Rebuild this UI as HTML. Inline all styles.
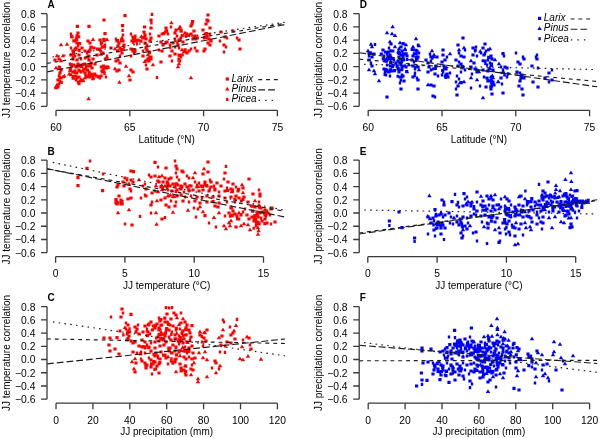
<!DOCTYPE html><html><head><meta charset="utf-8"><style>html,body{margin:0;padding:0;background:#fff;}svg{display:block;filter:blur(0.4px);}text{font-family:"Liberation Sans",sans-serif;}</style></head><body>
<svg width="600" height="438" viewBox="0 0 600 438">
<rect width="600" height="438" fill="#fff"/>
<path fill="#ff0000" d="M123.4 14.0h3.2v3.2h-3.2zM150.8 12.8h2.4v3.1h-2.4zM102.4 18.4h3.2v3.2h-3.2zM149.4 18.4h3.2v3.2h-3.2zM150.2 21.4h2.4v3.1h-2.4zM75.8 24.8h3.2v3.2h-3.2zM87.4 24.8h3.2v3.2h-3.2zM121.0 24.0h3.2v3.2h-3.2zM143.0 25.4h3.2v3.2h-3.2zM149.4 26.4h3.2v3.2h-3.2zM121.4 28.8h2.4v3.1h-2.4zM164.4 26.4h3.2v3.2h-3.2zM69.8 32.5h2.4v3.1h-2.4zM70.4 35.4h3.2v3.2h-3.2zM76.4 31.4h3.2v3.2h-3.2zM75.4 34.4h3.2v3.2h-3.2zM74.8 37.5h2.4v3.1h-2.4zM103.4 32.0h3.2v3.2h-3.2zM121.8 33.5h2.4v3.1h-2.4zM129.8 32.5h2.4v3.1h-2.4zM131.4 35.4h3.2v3.2h-3.2zM133.8 36.5h2.4v3.1h-2.4zM130.4 39.4h3.2v3.2h-3.2zM134.4 39.4h3.2v3.2h-3.2zM142.4 30.4h3.2v3.2h-3.2zM143.4 33.4h3.2v3.2h-3.2zM143.0 35.6l2.2 3.7h-4.4zM144.4 37.4h3.2v3.2h-3.2zM148.8 32.5h2.4v3.1h-2.4zM149.4 36.4h3.2v3.2h-3.2zM148.4 39.4h3.2v3.2h-3.2zM157.4 34.4h3.2v3.2h-3.2zM160.8 32.5h2.4v3.1h-2.4zM163.8 30.4h2.4v3.1h-2.4zM73.4 39.4h3.2v3.2h-3.2zM75.4 41.4h3.2v3.2h-3.2zM76.8 44.5h2.4v3.1h-2.4zM74.4 46.4h3.2v3.2h-3.2zM86.4 39.4h3.2v3.2h-3.2zM93.0 37.2l2.2 3.7h-4.4zM88.4 41.4h3.2v3.2h-3.2zM98.4 38.4h3.2v3.2h-3.2zM100.8 41.5h2.4v3.1h-2.4zM104.0 38.6l2.2 3.7h-4.4zM107.0 37.2l2.2 3.7h-4.4zM103.8 43.5h2.4v3.1h-2.4zM101.4 45.4h3.2v3.2h-3.2zM99.8 42.5h2.4v3.1h-2.4zM114.8 37.5h2.4v3.1h-2.4zM115.4 39.4h3.2v3.2h-3.2zM117.4 41.4h3.2v3.2h-3.2zM116.4 44.4h3.2v3.2h-3.2zM118.4 46.4h3.2v3.2h-3.2zM122.0 35.6l2.2 3.7h-4.4zM121.4 39.4h3.2v3.2h-3.2zM122.4 43.4h3.2v3.2h-3.2zM136.8 38.5h2.4v3.1h-2.4zM135.8 42.5h2.4v3.1h-2.4zM143.4 41.4h3.2v3.2h-3.2zM145.8 43.5h2.4v3.1h-2.4zM144.4 46.4h3.2v3.2h-3.2zM159.4 40.4h3.2v3.2h-3.2zM161.4 43.4h3.2v3.2h-3.2zM164.8 41.5h2.4v3.1h-2.4zM61.0 42.6l2.2 3.7h-4.4zM67.0 42.0l2.2 3.7h-4.4zM69.8 46.5h2.4v3.1h-2.4zM71.4 49.4h3.2v3.2h-3.2zM77.4 48.4h3.2v3.2h-3.2zM80.4 46.4h3.2v3.2h-3.2zM83.4 49.4h3.2v3.2h-3.2zM85.8 51.5h2.4v3.1h-2.4zM88.4 48.4h3.2v3.2h-3.2zM89.4 45.4h3.2v3.2h-3.2zM92.4 46.4h3.2v3.2h-3.2zM97.4 47.4h3.2v3.2h-3.2zM101.0 48.6l2.2 3.7h-4.4zM101.4 51.4h3.2v3.2h-3.2zM109.4 46.4h3.2v3.2h-3.2zM115.0 46.6l2.2 3.7h-4.4zM119.8 48.5h2.4v3.1h-2.4zM120.4 51.4h3.2v3.2h-3.2zM118.8 54.5h2.4v3.1h-2.4zM129.4 47.4h3.2v3.2h-3.2zM131.4 49.4h3.2v3.2h-3.2zM133.4 48.4h3.2v3.2h-3.2zM132.8 51.5h2.4v3.1h-2.4zM141.8 49.5h2.4v3.1h-2.4zM145.4 48.4h3.2v3.2h-3.2zM148.8 50.5h2.4v3.1h-2.4zM148.0 52.6l2.2 3.7h-4.4zM157.8 48.5h2.4v3.1h-2.4zM160.4 49.4h3.2v3.2h-3.2zM57.0 53.6l2.2 3.7h-4.4zM63.0 53.6l2.2 3.7h-4.4zM69.4 53.4h3.2v3.2h-3.2zM73.8 54.5h2.4v3.1h-2.4zM77.4 53.4h3.2v3.2h-3.2zM87.4 54.4h3.2v3.2h-3.2zM95.4 53.4h3.2v3.2h-3.2zM105.8 54.5h2.4v3.1h-2.4zM129.8 54.5h2.4v3.1h-2.4zM141.4 54.4h3.2v3.2h-3.2zM149.4 55.4h3.2v3.2h-3.2zM56.0 65.6l2.2 3.7h-4.4zM57.8 65.5h2.4v3.1h-2.4zM59.4 68.4h3.2v3.2h-3.2zM58.4 71.4h3.2v3.2h-3.2zM57.8 74.5h2.4v3.1h-2.4zM59.4 76.4h3.2v3.2h-3.2zM56.4 78.4h3.2v3.2h-3.2zM60.0 79.6l2.2 3.7h-4.4zM57.0 82.6l2.2 3.7h-4.4zM56.0 85.6l2.2 3.7h-4.4zM56.4 85.4h3.2v3.2h-3.2zM63.0 74.6l2.2 3.7h-4.4zM57.8 82.5h2.4v3.1h-2.4zM53.4 58.4h3.2v3.2h-3.2zM57.4 57.4h3.2v3.2h-3.2zM61.0 58.6l2.2 3.7h-4.4zM71.4 57.4h3.2v3.2h-3.2zM75.4 58.4h3.2v3.2h-3.2zM79.8 57.5h2.4v3.1h-2.4zM83.8 56.5h2.4v3.1h-2.4zM87.4 58.4h3.2v3.2h-3.2zM91.4 57.4h3.2v3.2h-3.2zM93.4 62.4h3.2v3.2h-3.2zM68.8 62.5h2.4v3.1h-2.4zM70.4 64.4h3.2v3.2h-3.2zM72.4 63.4h3.2v3.2h-3.2zM74.4 65.4h3.2v3.2h-3.2zM76.4 62.4h3.2v3.2h-3.2zM78.8 64.5h2.4v3.1h-2.4zM80.4 63.4h3.2v3.2h-3.2zM82.8 62.5h2.4v3.1h-2.4zM84.8 65.5h2.4v3.1h-2.4zM86.4 64.4h3.2v3.2h-3.2zM88.4 63.4h3.2v3.2h-3.2zM90.4 66.4h3.2v3.2h-3.2zM69.8 68.5h2.4v3.1h-2.4zM71.4 70.4h3.2v3.2h-3.2zM73.4 69.4h3.2v3.2h-3.2zM75.8 71.5h2.4v3.1h-2.4zM77.4 68.4h3.2v3.2h-3.2zM79.8 70.5h2.4v3.1h-2.4zM81.4 69.4h3.2v3.2h-3.2zM83.4 71.4h3.2v3.2h-3.2zM85.4 68.4h3.2v3.2h-3.2zM87.4 70.4h3.2v3.2h-3.2zM89.4 72.4h3.2v3.2h-3.2zM73.4 74.4h3.2v3.2h-3.2zM75.4 76.4h3.2v3.2h-3.2zM77.4 75.4h3.2v3.2h-3.2zM81.0 77.6l2.2 3.7h-4.4zM83.0 78.6l2.2 3.7h-4.4zM74.8 78.5h2.4v3.1h-2.4zM76.8 80.5h2.4v3.1h-2.4zM73.0 74.6l2.2 3.7h-4.4zM71.0 72.6l2.2 3.7h-4.4zM85.4 74.4h3.2v3.2h-3.2zM87.8 75.5h2.4v3.1h-2.4zM93.0 76.6l2.2 3.7h-4.4zM90.4 74.4h3.2v3.2h-3.2zM85.0 75.6l2.2 3.7h-4.4zM92.4 73.4h3.2v3.2h-3.2zM99.8 65.5h2.4v3.1h-2.4zM103.0 66.6l2.2 3.7h-4.4zM106.0 64.6l2.2 3.7h-4.4zM105.8 66.5h2.4v3.1h-2.4zM100.4 69.4h3.2v3.2h-3.2zM102.4 70.4h3.2v3.2h-3.2zM99.4 74.4h3.2v3.2h-3.2zM98.8 76.5h2.4v3.1h-2.4zM104.8 75.5h2.4v3.1h-2.4zM108.0 64.6l2.2 3.7h-4.4zM114.4 59.4h3.2v3.2h-3.2zM116.4 58.4h3.2v3.2h-3.2zM118.4 61.4h3.2v3.2h-3.2zM115.0 66.6l2.2 3.7h-4.4zM115.4 69.4h3.2v3.2h-3.2zM117.4 68.4h3.2v3.2h-3.2zM126.0 64.0l2.2 3.7h-4.4zM129.4 68.4h3.2v3.2h-3.2zM131.4 70.4h3.2v3.2h-3.2zM129.0 73.6l2.2 3.7h-4.4zM128.4 78.4h3.2v3.2h-3.2zM119.4 80.0l2.2 3.7h-4.4zM103.8 57.5h2.4v3.1h-2.4zM105.4 56.4h3.2v3.2h-3.2zM145.4 58.4h3.2v3.2h-3.2zM147.4 59.4h3.2v3.2h-3.2zM149.4 57.4h3.2v3.2h-3.2zM153.0 62.6l2.2 3.7h-4.4zM144.8 63.5h2.4v3.1h-2.4zM145.4 67.4h3.2v3.2h-3.2zM159.4 60.4h3.2v3.2h-3.2zM155.8 75.9h2.4v3.1h-2.4zM88.6 96.6l2.2 3.7h-4.4zM206.4 13.4h3.2v3.2h-3.2zM205.4 18.4h3.2v3.2h-3.2zM206.4 19.4h3.2v3.2h-3.2zM204.4 22.4h3.2v3.2h-3.2zM208.4 26.4h3.2v3.2h-3.2zM171.4 20.6l2.2 3.7h-4.4zM169.8 25.4h2.4v3.1h-2.4zM191.0 20.0h3.2v3.2h-3.2zM190.4 22.4h3.2v3.2h-3.2zM189.4 24.4h3.2v3.2h-3.2zM180.0 24.6l2.2 3.7h-4.4zM179.0 26.6l2.2 3.7h-4.4zM179.4 28.4h3.2v3.2h-3.2zM174.4 28.4h3.2v3.2h-3.2zM173.4 31.4h3.2v3.2h-3.2zM175.8 34.5h2.4v3.1h-2.4zM173.8 37.5h2.4v3.1h-2.4zM185.0 30.6l2.2 3.7h-4.4zM184.4 34.4h3.2v3.2h-3.2zM187.8 33.5h2.4v3.1h-2.4zM189.4 32.4h3.2v3.2h-3.2zM192.4 29.4h3.2v3.2h-3.2zM193.4 34.4h3.2v3.2h-3.2zM191.4 37.4h3.2v3.2h-3.2zM194.8 37.5h2.4v3.1h-2.4zM201.4 28.4h3.2v3.2h-3.2zM203.8 32.5h2.4v3.1h-2.4zM202.8 36.5h2.4v3.1h-2.4zM205.4 34.4h3.2v3.2h-3.2zM208.8 32.5h2.4v3.1h-2.4zM207.4 37.4h3.2v3.2h-3.2zM209.4 39.4h3.2v3.2h-3.2zM206.4 41.4h3.2v3.2h-3.2zM208.4 43.4h3.2v3.2h-3.2zM219.4 30.4h3.2v3.2h-3.2zM223.4 35.4h3.2v3.2h-3.2zM225.8 36.5h2.4v3.1h-2.4zM218.8 39.5h2.4v3.1h-2.4zM222.4 43.4h3.2v3.2h-3.2zM224.8 45.5h2.4v3.1h-2.4zM222.8 50.5h2.4v3.1h-2.4zM231.4 29.4h3.2v3.2h-3.2zM235.8 36.5h2.4v3.1h-2.4zM237.4 38.4h3.2v3.2h-3.2zM238.4 47.4h3.2v3.2h-3.2zM165.8 29.4h2.4v3.1h-2.4zM166.8 32.5h2.4v3.1h-2.4zM165.4 40.4h3.2v3.2h-3.2zM168.8 43.5h2.4v3.1h-2.4zM171.4 41.4h3.2v3.2h-3.2zM177.4 38.4h3.2v3.2h-3.2zM179.8 36.5h2.4v3.1h-2.4zM181.4 40.4h3.2v3.2h-3.2zM176.4 43.4h3.2v3.2h-3.2zM173.8 45.5h2.4v3.1h-2.4zM177.8 46.5h2.4v3.1h-2.4zM182.0 47.6l2.2 3.7h-4.4zM184.0 49.6l2.2 3.7h-4.4zM185.4 51.4h3.2v3.2h-3.2zM187.4 49.4h3.2v3.2h-3.2zM189.8 47.5h2.4v3.1h-2.4zM193.8 46.5h2.4v3.1h-2.4zM195.4 49.4h3.2v3.2h-3.2zM203.4 47.4h3.2v3.2h-3.2zM202.4 49.4h3.2v3.2h-3.2zM170.4 49.4h3.2v3.2h-3.2zM173.4 52.4h3.2v3.2h-3.2zM177.4 53.4h3.2v3.2h-3.2zM168.4 54.4h3.2v3.2h-3.2zM179.8 55.5h2.4v3.1h-2.4zM170.8 59.5h2.4v3.1h-2.4zM177.4 57.4h3.2v3.2h-3.2zM178.8 59.5h2.4v3.1h-2.4zM179.0 61.6l2.2 3.7h-4.4zM178.0 64.6l2.2 3.7h-4.4zM191.0 75.6l2.2 3.7h-4.4zM70.0 34.8h3.2v3.2h-3.2zM77.8 35.2h2.4v3.1h-2.4zM75.1 37.7h3.2v3.2h-3.2zM134.2 34.6h2.4v3.1h-2.4zM132.9 36.1h3.2v3.2h-3.2zM132.1 40.8h2.4v3.1h-2.4zM131.9 38.4h3.2v3.2h-3.2zM144.1 34.2h2.4v3.1h-2.4zM141.4 34.2l2.2 3.7h-4.4zM142.7 36.4h3.2v3.2h-3.2zM150.1 37.9l2.2 3.7h-4.4zM162.3 32.0h3.2v3.2h-3.2zM72.3 39.3h3.2v3.2h-3.2zM78.0 42.0h3.2v3.2h-3.2zM73.5 47.8h3.2v3.2h-3.2zM103.1 37.8h2.4v3.1h-2.4zM102.2 37.9h3.2v3.2h-3.2zM103.0 45.1h3.2v3.2h-3.2zM100.7 45.7h2.4v3.1h-2.4zM99.9 41.5h2.4v3.1h-2.4zM115.9 38.9h3.2v3.2h-3.2zM119.9 39.2h3.2v3.2h-3.2zM116.0 49.3h3.2v3.2h-3.2zM123.0 44.8h2.4v3.1h-2.4zM136.4 38.6h3.2v3.2h-3.2zM139.3 39.6h3.2v3.2h-3.2zM143.8 41.6h2.4v3.1h-2.4zM146.5 43.9l2.2 3.7h-4.4zM164.4 41.0h2.4v3.1h-2.4zM72.7 50.9h2.4v3.1h-2.4zM78.3 49.1h2.4v3.1h-2.4zM87.5 49.7h2.4v3.1h-2.4zM87.4 49.8h3.2v3.2h-3.2zM95.9 47.6h3.2v3.2h-3.2zM100.7 52.0l2.2 3.7h-4.4zM121.5 47.7h3.2v3.2h-3.2zM134.0 49.8h2.4v3.1h-2.4zM147.7 51.2h3.2v3.2h-3.2zM71.8 52.5h3.2v3.2h-3.2zM146.8 57.3h3.2v3.2h-3.2zM57.8 66.0h3.2v3.2h-3.2zM58.5 75.4h2.4v3.1h-2.4zM60.7 79.5l2.2 3.7h-4.4zM55.9 84.4l2.2 3.7h-4.4zM64.4 73.7l2.2 3.7h-4.4zM60.4 80.8h2.4v3.1h-2.4zM72.2 55.9h2.4v3.1h-2.4zM86.1 55.4h3.2v3.2h-3.2zM89.7 61.6h3.2v3.2h-3.2zM69.5 63.0h3.2v3.2h-3.2zM77.2 63.8h3.2v3.2h-3.2zM76.2 64.6h3.2v3.2h-3.2zM80.0 64.7h3.2v3.2h-3.2zM82.0 62.9h2.4v3.1h-2.4zM83.0 62.4h3.2v3.2h-3.2zM90.7 63.4l2.2 3.7h-4.4zM88.4 64.5h2.4v3.1h-2.4zM68.7 67.8h3.2v3.2h-3.2zM70.0 68.5l2.2 3.7h-4.4zM73.8 70.9h2.4v3.1h-2.4zM77.7 64.4h3.2v3.2h-3.2zM80.1 68.9l2.2 3.7h-4.4zM82.2 67.4h3.2v3.2h-3.2zM86.7 68.5h2.4v3.1h-2.4zM87.8 73.3h3.2v3.2h-3.2zM75.8 75.6h3.2v3.2h-3.2zM80.1 78.6l2.2 3.7h-4.4zM83.0 77.8l2.2 3.7h-4.4zM77.4 82.0h3.2v3.2h-3.2zM73.5 76.1l2.2 3.7h-4.4zM69.2 71.9l2.2 3.7h-4.4zM84.3 72.9h2.4v3.1h-2.4zM88.2 75.2h3.2v3.2h-3.2zM93.3 75.2l2.2 3.7h-4.4zM93.2 72.6h3.2v3.2h-3.2zM87.0 74.5l2.2 3.7h-4.4zM95.0 74.4h3.2v3.2h-3.2zM101.8 64.4h3.2v3.2h-3.2zM104.3 66.3h3.2v3.2h-3.2zM107.1 65.8h2.4v3.1h-2.4zM100.9 70.3h2.4v3.1h-2.4zM103.3 71.9h2.4v3.1h-2.4zM96.9 75.3h3.2v3.2h-3.2zM145.7 58.5h3.2v3.2h-3.2zM144.8 59.3l2.2 3.7h-4.4zM148.2 55.5h3.2v3.2h-3.2zM179.6 29.6h3.2v3.2h-3.2zM180.9 34.1h2.4v3.1h-2.4zM186.8 33.7h3.2v3.2h-3.2zM184.6 32.2h3.2v3.2h-3.2zM192.4 34.7h3.2v3.2h-3.2zM196.5 36.3h2.4v3.1h-2.4zM204.9 32.1h3.2v3.2h-3.2zM203.9 35.8h3.2v3.2h-3.2zM207.2 37.4h3.2v3.2h-3.2zM165.0 29.7h3.2v3.2h-3.2zM169.1 45.8h2.4v3.1h-2.4zM175.5 38.6l2.2 3.7h-4.4zM180.0 37.5l2.2 3.7h-4.4zM180.7 33.9h3.2v3.2h-3.2zM176.2 41.4h2.4v3.1h-2.4zM183.5 48.3h3.2v3.2h-3.2zM177.8 53.7h3.2v3.2h-3.2zM180.6 53.4h3.2v3.2h-3.2zM179.1 58.0l2.2 3.7h-4.4z"/>
<line x1="52.5" y1="57.0" x2="285.0" y2="22.2" stroke="#1c1c1c" stroke-width="1.15" stroke-dasharray="1.6 4.23"/>
<line x1="47.0" y1="63.4" x2="285.0" y2="23.3" stroke="#1c1c1c" stroke-width="1.15" stroke-dasharray="3.9 3.9"/>
<line x1="47.0" y1="71.9" x2="285.0" y2="24.5" stroke="#1c1c1c" stroke-width="1.15" stroke-dasharray="6.8 3.0"/>
<path d="M47.0,13.70V106.31" stroke="#3a3a3a" stroke-width="1.3" fill="none"/>
<path d="M41.0,13.70H47.0M41.0,26.93H47.0M41.0,40.16H47.0M41.0,53.39H47.0M41.0,66.62H47.0M41.0,79.85H47.0M41.0,93.08H47.0M41.0,106.31H47.0" stroke="#3a3a3a" stroke-width="1.3" fill="none"/>
<text x="35.4" y="17.65" font-size="10.3" text-anchor="end" fill="#000">0.8</text>
<text x="35.4" y="30.88" font-size="10.3" text-anchor="end" fill="#000">0.6</text>
<text x="35.4" y="44.11" font-size="10.3" text-anchor="end" fill="#000">0.4</text>
<text x="35.4" y="57.34" font-size="10.3" text-anchor="end" fill="#000">0.2</text>
<text x="35.4" y="70.57" font-size="10.3" text-anchor="end" fill="#000">0.0</text>
<text x="35.4" y="83.80" font-size="10.3" text-anchor="end" fill="#000">−0.2</text>
<text x="35.4" y="97.03" font-size="10.3" text-anchor="end" fill="#000">−0.4</text>
<text x="35.4" y="110.26" font-size="10.3" text-anchor="end" fill="#000">−0.6</text>
<path d="M56.0,110.3H277.4M56.0,110.3V116.3M129.8,110.3V116.3M203.6,110.3V116.3M277.4,110.3V116.3" stroke="#3a3a3a" stroke-width="1.3" fill="none"/>
<text x="56.0" y="131.0" font-size="10.3" text-anchor="middle" fill="#000">60</text>
<text x="129.8" y="131.0" font-size="10.3" text-anchor="middle" fill="#000">65</text>
<text x="203.6" y="131.0" font-size="10.3" text-anchor="middle" fill="#000">70</text>
<text x="277.4" y="131.0" font-size="10.3" text-anchor="middle" fill="#000">75</text>
<text x="166.7" y="142.5" font-size="10" text-anchor="middle" fill="#000">Latitude (°N)</text>
<text transform="translate(9.5,60.0) rotate(-90)" font-size="10" text-anchor="middle" fill="#000">JJ temperature correlation</text>
<text x="47.6" y="8.4" font-size="10" font-weight="bold" fill="#000">A</text>
<path fill="#ff0000" d="M88.8 159.4h2.4v3.1h-2.4zM85.4 166.8h3.2v3.2h-3.2zM101.8 172.4h2.4v3.1h-2.4zM76.4 176.0h3.2v3.2h-3.2zM76.4 184.0h3.2v3.2h-3.2zM101.0 189.0h3.2v3.2h-3.2zM129.4 169.4h3.2v3.2h-3.2zM131.8 170.0h3.2v3.2h-3.2zM123.4 176.4h3.2v3.2h-3.2zM125.8 178.4h2.4v3.1h-2.4zM121.4 180.4h3.2v3.2h-3.2zM129.0 181.6l2.2 3.7h-4.4zM129.4 178.4h3.2v3.2h-3.2zM131.4 180.4h3.2v3.2h-3.2zM122.4 184.4h3.2v3.2h-3.2zM116.4 183.4h3.2v3.2h-3.2zM115.4 185.4h3.2v3.2h-3.2zM129.8 189.4h2.4v3.1h-2.4zM128.4 187.4h3.2v3.2h-3.2zM139.0 177.6l2.2 3.7h-4.4zM143.8 182.4h2.4v3.1h-2.4zM141.8 184.4h2.4v3.1h-2.4zM144.4 187.4h3.2v3.2h-3.2zM153.4 160.8h3.2v3.2h-3.2zM156.8 165.4h2.4v3.1h-2.4zM164.4 166.4h3.2v3.2h-3.2zM147.8 173.4h2.4v3.1h-2.4zM149.4 175.4h3.2v3.2h-3.2zM153.4 174.4h3.2v3.2h-3.2zM159.0 174.6l2.2 3.7h-4.4zM162.0 173.6l2.2 3.7h-4.4zM163.4 176.4h3.2v3.2h-3.2zM161.4 180.4h3.2v3.2h-3.2zM157.4 180.4h3.2v3.2h-3.2zM156.0 183.6l2.2 3.7h-4.4zM159.4 185.4h3.2v3.2h-3.2zM163.8 184.4h2.4v3.1h-2.4zM162.0 187.6l2.2 3.7h-4.4zM158.0 189.6l2.2 3.7h-4.4zM153.8 189.4h2.4v3.1h-2.4zM150.4 191.4h3.2v3.2h-3.2zM117.4 194.4h3.2v3.2h-3.2zM119.4 198.4h3.2v3.2h-3.2zM115.8 200.4h2.4v3.1h-2.4zM126.4 197.4h3.2v3.2h-3.2zM129.4 196.4h3.2v3.2h-3.2zM139.8 196.4h2.4v3.1h-2.4zM143.8 193.4h2.4v3.1h-2.4zM144.4 194.4h3.2v3.2h-3.2zM150.8 200.4h2.4v3.1h-2.4zM157.0 198.6l2.2 3.7h-4.4zM159.4 198.4h3.2v3.2h-3.2zM163.4 196.4h3.2v3.2h-3.2zM122.0 200.6l2.2 3.7h-4.4zM114.4 201.4h3.2v3.2h-3.2zM118.0 210.6l2.2 3.7h-4.4zM129.0 207.6l2.2 3.7h-4.4zM138.8 214.8h2.4v3.1h-2.4zM149.8 211.4h2.4v3.1h-2.4zM156.0 210.6l2.2 3.7h-4.4zM149.4 203.4h3.2v3.2h-3.2zM160.4 217.4h3.2v3.2h-3.2zM163.8 216.0h2.4v3.1h-2.4zM123.8 222.4h2.4v3.1h-2.4zM130.4 223.4h3.2v3.2h-3.2zM156.6 222.0l2.2 3.7h-4.4zM164.4 203.4h3.2v3.2h-3.2zM115.4 202.4h3.2v3.2h-3.2zM119.8 202.4h2.4v3.1h-2.4zM173.8 159.4h2.4v3.1h-2.4zM206.4 160.4h3.2v3.2h-3.2zM224.8 164.8h2.4v3.1h-2.4zM174.4 164.4h3.2v3.2h-3.2zM175.4 167.4h3.2v3.2h-3.2zM174.8 171.4h2.4v3.1h-2.4zM180.4 169.4h3.2v3.2h-3.2zM181.4 170.4h3.2v3.2h-3.2zM195.0 170.6l2.2 3.7h-4.4zM204.0 166.6l2.2 3.7h-4.4zM201.4 172.4h3.2v3.2h-3.2zM206.4 170.4h3.2v3.2h-3.2zM223.4 171.4h3.2v3.2h-3.2zM167.4 177.4h3.2v3.2h-3.2zM169.4 176.4h3.2v3.2h-3.2zM175.8 175.4h2.4v3.1h-2.4zM177.8 178.4h2.4v3.1h-2.4zM185.8 174.4h2.4v3.1h-2.4zM187.8 176.4h2.4v3.1h-2.4zM193.0 175.6l2.2 3.7h-4.4zM193.8 180.4h2.4v3.1h-2.4zM197.8 181.4h2.4v3.1h-2.4zM203.4 180.4h3.2v3.2h-3.2zM208.8 178.4h2.4v3.1h-2.4zM209.4 180.4h3.2v3.2h-3.2zM215.4 181.4h3.2v3.2h-3.2zM222.8 177.4h2.4v3.1h-2.4zM226.4 180.4h3.2v3.2h-3.2zM231.4 182.4h3.2v3.2h-3.2zM247.4 177.4h3.2v3.2h-3.2zM165.4 184.4h3.2v3.2h-3.2zM168.4 184.4h3.2v3.2h-3.2zM171.4 182.4h3.2v3.2h-3.2zM173.4 185.4h3.2v3.2h-3.2zM176.8 183.4h2.4v3.1h-2.4zM179.4 184.4h3.2v3.2h-3.2zM183.4 182.4h3.2v3.2h-3.2zM185.4 185.4h3.2v3.2h-3.2zM189.4 184.4h3.2v3.2h-3.2zM195.4 185.4h3.2v3.2h-3.2zM199.4 184.4h3.2v3.2h-3.2zM205.4 184.4h3.2v3.2h-3.2zM209.4 185.4h3.2v3.2h-3.2zM212.8 184.4h2.4v3.1h-2.4zM219.4 184.4h3.2v3.2h-3.2zM225.8 186.4h2.4v3.1h-2.4zM229.4 187.4h3.2v3.2h-3.2zM234.8 185.4h2.4v3.1h-2.4zM242.0 182.6l2.2 3.7h-4.4zM241.4 186.4h3.2v3.2h-3.2zM166.8 188.4h2.4v3.1h-2.4zM170.4 189.4h3.2v3.2h-3.2zM175.4 188.4h3.2v3.2h-3.2zM179.4 187.4h3.2v3.2h-3.2zM182.8 190.4h2.4v3.1h-2.4zM187.8 189.4h2.4v3.1h-2.4zM191.4 188.4h3.2v3.2h-3.2zM197.4 189.4h3.2v3.2h-3.2zM201.4 188.4h3.2v3.2h-3.2zM207.4 189.4h3.2v3.2h-3.2zM213.4 188.4h3.2v3.2h-3.2zM217.8 190.4h2.4v3.1h-2.4zM223.4 189.4h3.2v3.2h-3.2zM227.0 187.6l2.2 3.7h-4.4zM232.0 189.6l2.2 3.7h-4.4zM236.4 189.4h3.2v3.2h-3.2zM243.0 190.6l2.2 3.7h-4.4zM257.8 188.4h2.4v3.1h-2.4zM258.4 192.4h3.2v3.2h-3.2zM167.8 194.4h2.4v3.1h-2.4zM173.0 194.6l2.2 3.7h-4.4zM175.4 194.4h3.2v3.2h-3.2zM179.4 193.4h3.2v3.2h-3.2zM183.8 195.4h2.4v3.1h-2.4zM189.8 194.4h2.4v3.1h-2.4zM195.4 195.4h3.2v3.2h-3.2zM200.8 196.4h2.4v3.1h-2.4zM205.4 194.4h3.2v3.2h-3.2zM211.4 195.4h3.2v3.2h-3.2zM217.4 194.4h3.2v3.2h-3.2zM223.4 196.4h3.2v3.2h-3.2zM229.4 195.4h3.2v3.2h-3.2zM234.4 194.4h3.2v3.2h-3.2zM237.4 196.4h3.2v3.2h-3.2zM242.4 195.4h3.2v3.2h-3.2zM251.4 192.4h3.2v3.2h-3.2zM258.4 194.4h3.2v3.2h-3.2zM169.8 199.4h2.4v3.1h-2.4zM174.8 200.4h2.4v3.1h-2.4zM181.4 199.4h3.2v3.2h-3.2zM187.8 200.4h2.4v3.1h-2.4zM193.4 199.4h3.2v3.2h-3.2zM198.4 201.4h3.2v3.2h-3.2zM205.4 200.4h3.2v3.2h-3.2zM211.4 200.0h3.2v3.2h-3.2zM217.4 201.4h3.2v3.2h-3.2zM225.8 200.4h2.4v3.1h-2.4zM233.8 200.4h2.4v3.1h-2.4zM239.8 199.4h2.4v3.1h-2.4zM246.4 200.4h3.2v3.2h-3.2zM255.0 198.6l2.2 3.7h-4.4zM257.8 200.4h2.4v3.1h-2.4zM167.4 205.4h3.2v3.2h-3.2zM173.4 204.4h3.2v3.2h-3.2zM173.0 210.0l2.2 3.7h-4.4zM188.0 208.0l2.2 3.7h-4.4zM192.8 206.4h2.4v3.1h-2.4zM196.8 207.4h2.4v3.1h-2.4zM200.0 204.6l2.2 3.7h-4.4zM203.0 209.6l2.2 3.7h-4.4zM203.4 214.0h3.2v3.2h-3.2zM194.8 215.4h2.4v3.1h-2.4zM207.8 221.4h2.4v3.1h-2.4zM214.0 215.2l2.2 3.7h-4.4zM214.8 225.4h2.4v3.1h-2.4zM219.0 210.6l2.2 3.7h-4.4zM216.4 205.4h3.2v3.2h-3.2zM213.4 204.4h3.2v3.2h-3.2zM223.8 214.4h2.4v3.1h-2.4zM224.0 223.6l2.2 3.7h-4.4zM226.0 226.6l2.2 3.7h-4.4zM229.0 220.6l2.2 3.7h-4.4zM231.0 218.6l2.2 3.7h-4.4zM230.0 223.6l2.2 3.7h-4.4zM229.4 206.4h3.2v3.2h-3.2zM231.4 209.4h3.2v3.2h-3.2zM233.4 212.4h3.2v3.2h-3.2zM227.4 211.4h3.2v3.2h-3.2zM230.4 213.4h3.2v3.2h-3.2zM235.4 214.4h3.2v3.2h-3.2zM239.0 210.6l2.2 3.7h-4.4zM239.4 213.4h3.2v3.2h-3.2zM241.8 210.4h2.4v3.1h-2.4zM243.8 207.4h2.4v3.1h-2.4zM237.8 217.4h2.4v3.1h-2.4zM234.4 225.4h3.2v3.2h-3.2zM241.0 223.6l2.2 3.7h-4.4zM244.0 221.6l2.2 3.7h-4.4zM248.0 222.6l2.2 3.7h-4.4zM250.0 227.6l2.2 3.7h-4.4zM247.4 217.4h3.2v3.2h-3.2zM245.4 213.4h3.2v3.2h-3.2zM249.8 204.4h2.4v3.1h-2.4zM253.4 205.4h3.2v3.2h-3.2zM257.4 204.4h3.2v3.2h-3.2zM259.4 206.4h3.2v3.2h-3.2zM251.8 209.4h2.4v3.1h-2.4zM255.4 210.4h3.2v3.2h-3.2zM258.4 211.4h3.2v3.2h-3.2zM261.8 210.4h2.4v3.1h-2.4zM263.4 208.4h3.2v3.2h-3.2zM253.8 214.4h2.4v3.1h-2.4zM250.4 215.4h3.2v3.2h-3.2zM256.4 215.4h3.2v3.2h-3.2zM259.8 216.4h2.4v3.1h-2.4zM252.4 219.4h3.2v3.2h-3.2zM255.4 220.4h3.2v3.2h-3.2zM257.4 222.4h3.2v3.2h-3.2zM260.4 219.4h3.2v3.2h-3.2zM263.4 217.4h3.2v3.2h-3.2zM264.8 214.4h2.4v3.1h-2.4zM266.4 211.4h3.2v3.2h-3.2zM269.4 207.4h3.2v3.2h-3.2zM268.8 213.4h2.4v3.1h-2.4zM265.4 221.4h3.2v3.2h-3.2zM269.8 222.4h2.4v3.1h-2.4zM273.4 220.4h3.2v3.2h-3.2zM258.0 225.6l2.2 3.7h-4.4zM258.6 228.6l2.2 3.7h-4.4zM258.0 232.0l2.2 3.7h-4.4zM254.8 224.4h2.4v3.1h-2.4zM270.4 206.4h3.2v3.2h-3.2zM165.6 180.6h3.2v3.2h-3.2zM156.2 179.4h3.2v3.2h-3.2zM159.6 184.7h3.2v3.2h-3.2zM161.6 185.9h2.4v3.1h-2.4zM120.4 200.0h3.2v3.2h-3.2zM114.5 199.5h3.2v3.2h-3.2zM121.2 202.3h2.4v3.1h-2.4zM114.4 197.9h3.2v3.2h-3.2zM116.6 201.2h2.4v3.1h-2.4zM119.3 201.2h3.2v3.2h-3.2zM195.9 183.5h2.4v3.1h-2.4zM204.9 183.8h3.2v3.2h-3.2zM166.3 182.0h3.2v3.2h-3.2zM174.8 182.3h3.2v3.2h-3.2zM180.2 185.2h3.2v3.2h-3.2zM188.3 184.3h3.2v3.2h-3.2zM197.8 184.3l2.2 3.7h-4.4zM201.0 184.8h3.2v3.2h-3.2zM203.3 182.9h3.2v3.2h-3.2zM208.5 187.8h2.4v3.1h-2.4zM213.3 187.5h3.2v3.2h-3.2zM230.8 188.5h3.2v3.2h-3.2zM165.8 187.0h2.4v3.1h-2.4zM170.4 192.8l2.2 3.7h-4.4zM174.6 189.9h2.4v3.1h-2.4zM187.2 188.2h3.2v3.2h-3.2zM226.0 188.9h3.2v3.2h-3.2zM232.1 188.7l2.2 3.7h-4.4zM237.0 187.7h3.2v3.2h-3.2zM168.0 193.6l2.2 3.7h-4.4zM173.8 194.2l2.2 3.7h-4.4zM233.3 197.7h3.2v3.2h-3.2zM241.3 197.8h3.2v3.2h-3.2zM231.6 205.1l2.2 3.7h-4.4zM232.1 213.6l2.2 3.7h-4.4zM229.0 214.7h2.4v3.1h-2.4zM235.9 217.3h2.4v3.1h-2.4zM239.8 212.9h2.4v3.1h-2.4zM251.0 204.6h3.2v3.2h-3.2zM257.8 205.5h3.2v3.2h-3.2zM251.0 209.6h3.2v3.2h-3.2zM255.7 213.4h3.2v3.2h-3.2zM260.6 210.5h3.2v3.2h-3.2zM265.0 209.5h3.2v3.2h-3.2zM253.3 213.9h2.4v3.1h-2.4zM254.6 216.0l2.2 3.7h-4.4zM263.1 211.7h3.2v3.2h-3.2zM254.9 222.2h3.2v3.2h-3.2zM254.7 217.8h2.4v3.1h-2.4zM259.0 220.5l2.2 3.7h-4.4zM263.3 222.1h3.2v3.2h-3.2zM263.4 213.5h3.2v3.2h-3.2zM264.3 212.9h3.2v3.2h-3.2zM252.5 226.7h2.4v3.1h-2.4z"/>
<line x1="52.7" y1="162.4" x2="285.0" y2="210.3" stroke="#1c1c1c" stroke-width="1.15" stroke-dasharray="1.6 4.23"/>
<line x1="47.0" y1="168.9" x2="285.0" y2="211.3" stroke="#1c1c1c" stroke-width="1.15" stroke-dasharray="3.9 3.9"/>
<line x1="47.0" y1="168.7" x2="285.0" y2="217.0" stroke="#1c1c1c" stroke-width="1.15" stroke-dasharray="6.8 3.0"/>
<path d="M47.0,160.10V252.71" stroke="#3a3a3a" stroke-width="1.3" fill="none"/>
<path d="M41.0,160.10H47.0M41.0,173.33H47.0M41.0,186.56H47.0M41.0,199.79H47.0M41.0,213.02H47.0M41.0,226.25H47.0M41.0,239.48H47.0M41.0,252.71H47.0" stroke="#3a3a3a" stroke-width="1.3" fill="none"/>
<text x="35.4" y="164.05" font-size="10.3" text-anchor="end" fill="#000">0.8</text>
<text x="35.4" y="177.28" font-size="10.3" text-anchor="end" fill="#000">0.6</text>
<text x="35.4" y="190.51" font-size="10.3" text-anchor="end" fill="#000">0.4</text>
<text x="35.4" y="203.74" font-size="10.3" text-anchor="end" fill="#000">0.2</text>
<text x="35.4" y="216.97" font-size="10.3" text-anchor="end" fill="#000">0.0</text>
<text x="35.4" y="230.20" font-size="10.3" text-anchor="end" fill="#000">−0.2</text>
<text x="35.4" y="243.43" font-size="10.3" text-anchor="end" fill="#000">−0.4</text>
<text x="35.4" y="256.66" font-size="10.3" text-anchor="end" fill="#000">−0.6</text>
<path d="M55.6,256.7H263.5M55.6,256.7V262.7M124.9,256.7V262.7M194.2,256.7V262.7M263.5,256.7V262.7" stroke="#3a3a3a" stroke-width="1.3" fill="none"/>
<text x="55.6" y="277.4" font-size="10.3" text-anchor="middle" fill="#000">0</text>
<text x="124.9" y="277.4" font-size="10.3" text-anchor="middle" fill="#000">5</text>
<text x="194.2" y="277.4" font-size="10.3" text-anchor="middle" fill="#000">10</text>
<text x="263.5" y="277.4" font-size="10.3" text-anchor="middle" fill="#000">15</text>
<text x="166.7" y="288.9" font-size="10" text-anchor="middle" fill="#000">JJ temperature (°C)</text>
<text transform="translate(9.5,206.4) rotate(-90)" font-size="10" text-anchor="middle" fill="#000">JJ temperature correlation</text>
<text x="47.6" y="154.8" font-size="10" font-weight="bold" fill="#000">B</text>
<path fill="#ff0000" d="M120.4 307.4h3.2v3.2h-3.2zM121.8 311.4h2.4v3.1h-2.4zM119.4 315.4h3.2v3.2h-3.2zM109.8 315.4h2.4v3.1h-2.4zM129.4 312.8h3.2v3.2h-3.2zM164.8 306.1h2.4v3.1h-2.4zM124.8 321.4h2.4v3.1h-2.4zM126.4 323.4h3.2v3.2h-3.2zM124.8 327.4h2.4v3.1h-2.4zM126.4 329.4h3.2v3.2h-3.2zM128.8 330.4h2.4v3.1h-2.4zM125.8 332.4h2.4v3.1h-2.4zM127.4 334.4h3.2v3.2h-3.2zM118.4 329.4h3.2v3.2h-3.2zM133.4 325.4h3.2v3.2h-3.2zM135.4 327.4h3.2v3.2h-3.2zM136.8 323.4h2.4v3.1h-2.4zM134.4 330.4h3.2v3.2h-3.2zM137.4 332.4h3.2v3.2h-3.2zM141.4 330.4h3.2v3.2h-3.2zM143.4 324.4h3.2v3.2h-3.2zM145.8 327.4h2.4v3.1h-2.4zM147.4 322.4h3.2v3.2h-3.2zM149.4 320.4h3.2v3.2h-3.2zM151.8 324.4h2.4v3.1h-2.4zM150.8 328.4h2.4v3.1h-2.4zM153.4 326.4h3.2v3.2h-3.2zM146.4 330.4h3.2v3.2h-3.2zM148.8 332.4h2.4v3.1h-2.4zM157.8 316.4h2.4v3.1h-2.4zM158.4 319.4h3.2v3.2h-3.2zM160.8 323.4h2.4v3.1h-2.4zM163.4 320.4h3.2v3.2h-3.2zM157.4 328.4h3.2v3.2h-3.2zM159.8 330.4h2.4v3.1h-2.4zM161.4 332.4h3.2v3.2h-3.2zM163.4 334.4h3.2v3.2h-3.2zM156.4 335.4h3.2v3.2h-3.2zM159.4 336.4h3.2v3.2h-3.2zM164.8 328.4h2.4v3.1h-2.4zM155.4 322.4h3.2v3.2h-3.2zM102.4 336.4h3.2v3.2h-3.2zM108.4 336.4h3.2v3.2h-3.2zM115.4 336.0h3.2v3.2h-3.2zM125.4 338.4h3.2v3.2h-3.2zM129.4 339.4h3.2v3.2h-3.2zM131.4 341.4h3.2v3.2h-3.2zM133.4 340.4h3.2v3.2h-3.2zM140.4 338.4h3.2v3.2h-3.2zM143.4 340.4h3.2v3.2h-3.2zM145.8 343.4h2.4v3.1h-2.4zM149.8 341.4h2.4v3.1h-2.4zM153.4 340.4h3.2v3.2h-3.2zM157.4 339.4h3.2v3.2h-3.2zM161.4 338.4h3.2v3.2h-3.2zM164.4 340.4h3.2v3.2h-3.2zM107.4 343.4h3.2v3.2h-3.2zM113.4 347.4h3.2v3.2h-3.2zM137.4 344.4h3.2v3.2h-3.2zM140.4 345.4h3.2v3.2h-3.2zM143.8 346.4h2.4v3.1h-2.4zM147.4 345.4h3.2v3.2h-3.2zM153.4 346.4h3.2v3.2h-3.2zM158.4 344.4h3.2v3.2h-3.2zM162.4 343.4h3.2v3.2h-3.2zM108.4 349.4h3.2v3.2h-3.2zM117.4 352.4h3.2v3.2h-3.2zM131.4 350.4h3.2v3.2h-3.2zM135.8 351.4h2.4v3.1h-2.4zM139.8 350.4h2.4v3.1h-2.4zM143.8 351.4h2.4v3.1h-2.4zM149.4 349.4h3.2v3.2h-3.2zM154.4 351.4h3.2v3.2h-3.2zM159.4 350.4h3.2v3.2h-3.2zM132.0 359.6l2.2 3.7h-4.4zM135.0 356.6l2.2 3.7h-4.4zM134.4 361.4h3.2v3.2h-3.2zM139.8 357.4h2.4v3.1h-2.4zM140.4 359.4h3.2v3.2h-3.2zM143.4 361.4h3.2v3.2h-3.2zM145.4 363.4h3.2v3.2h-3.2zM144.4 366.4h3.2v3.2h-3.2zM147.8 356.4h2.4v3.1h-2.4zM149.4 358.4h3.2v3.2h-3.2zM151.4 362.4h3.2v3.2h-3.2zM149.4 365.4h3.2v3.2h-3.2zM153.4 360.4h3.2v3.2h-3.2zM155.4 364.4h3.2v3.2h-3.2zM154.8 367.4h2.4v3.1h-2.4zM157.4 362.4h3.2v3.2h-3.2zM158.4 357.4h3.2v3.2h-3.2zM156.8 354.4h2.4v3.1h-2.4zM153.4 354.4h3.2v3.2h-3.2zM134.0 366.6l2.2 3.7h-4.4zM133.4 370.4h3.2v3.2h-3.2zM150.8 372.4h2.4v3.1h-2.4zM157.4 371.4h3.2v3.2h-3.2zM164.4 356.4h3.2v3.2h-3.2zM163.4 353.4h3.2v3.2h-3.2zM167.8 306.4h2.4v3.1h-2.4zM170.8 306.1h2.4v3.1h-2.4zM165.4 312.4h3.2v3.2h-3.2zM172.4 311.4h3.2v3.2h-3.2zM174.4 313.4h3.2v3.2h-3.2zM179.8 311.4h2.4v3.1h-2.4zM169.4 317.4h3.2v3.2h-3.2zM177.0 315.6l2.2 3.7h-4.4zM183.0 316.6l2.2 3.7h-4.4zM165.4 320.4h3.2v3.2h-3.2zM168.8 323.4h2.4v3.1h-2.4zM171.4 324.4h3.2v3.2h-3.2zM179.0 322.6l2.2 3.7h-4.4zM179.4 321.4h3.2v3.2h-3.2zM183.4 320.4h3.2v3.2h-3.2zM185.4 323.4h3.2v3.2h-3.2zM190.4 324.0h3.2v3.2h-3.2zM167.4 328.4h3.2v3.2h-3.2zM170.8 330.4h2.4v3.1h-2.4zM174.8 328.4h2.4v3.1h-2.4zM178.8 327.4h2.4v3.1h-2.4zM181.4 329.4h3.2v3.2h-3.2zM184.4 326.4h3.2v3.2h-3.2zM187.4 328.4h3.2v3.2h-3.2zM188.4 331.4h3.2v3.2h-3.2zM173.4 333.4h3.2v3.2h-3.2zM177.8 334.4h2.4v3.1h-2.4zM180.8 332.4h2.4v3.1h-2.4zM184.4 333.4h3.2v3.2h-3.2zM189.4 335.4h3.2v3.2h-3.2zM167.8 335.4h2.4v3.1h-2.4zM169.4 338.4h3.2v3.2h-3.2zM173.4 337.4h3.2v3.2h-3.2zM176.8 339.4h2.4v3.1h-2.4zM179.4 338.4h3.2v3.2h-3.2zM182.4 337.4h3.2v3.2h-3.2zM185.4 340.4h3.2v3.2h-3.2zM188.8 338.4h2.4v3.1h-2.4zM177.8 342.4h2.4v3.1h-2.4zM181.4 341.4h3.2v3.2h-3.2zM171.4 343.4h3.2v3.2h-3.2zM174.4 345.4h3.2v3.2h-3.2zM168.4 346.4h3.2v3.2h-3.2zM183.8 345.4h2.4v3.1h-2.4zM187.4 346.4h3.2v3.2h-3.2zM190.4 344.4h3.2v3.2h-3.2zM200.0 329.6l2.2 3.7h-4.4zM198.4 333.4h3.2v3.2h-3.2zM205.0 330.6l2.2 3.7h-4.4zM205.4 328.4h3.2v3.2h-3.2zM202.4 336.4h3.2v3.2h-3.2zM204.4 339.4h3.2v3.2h-3.2zM200.8 340.4h2.4v3.1h-2.4zM201.8 344.4h2.4v3.1h-2.4zM221.8 318.4h2.4v3.1h-2.4zM222.8 320.4h2.4v3.1h-2.4zM235.8 317.8h2.4v3.1h-2.4zM236.0 323.2l2.2 3.7h-4.4zM228.8 325.4h2.4v3.1h-2.4zM234.0 328.6l2.2 3.7h-4.4zM231.4 331.4h3.2v3.2h-3.2zM223.0 327.6l2.2 3.7h-4.4zM229.4 333.4h3.2v3.2h-3.2zM220.4 334.4h3.2v3.2h-3.2zM219.0 335.6l2.2 3.7h-4.4zM225.4 340.4h3.2v3.2h-3.2zM219.4 343.4h3.2v3.2h-3.2zM223.8 344.4h2.4v3.1h-2.4zM229.4 341.4h3.2v3.2h-3.2zM233.4 337.4h3.2v3.2h-3.2zM241.8 338.4h2.4v3.1h-2.4zM247.0 334.6l2.2 3.7h-4.4zM247.4 336.4h3.2v3.2h-3.2zM248.8 343.4h2.4v3.1h-2.4zM242.0 344.6l2.2 3.7h-4.4zM249.4 347.4h3.2v3.2h-3.2zM167.4 349.4h3.2v3.2h-3.2zM170.4 351.4h3.2v3.2h-3.2zM173.4 349.4h3.2v3.2h-3.2zM177.4 350.4h3.2v3.2h-3.2zM182.4 349.4h3.2v3.2h-3.2zM185.8 351.4h2.4v3.1h-2.4zM187.4 349.4h3.2v3.2h-3.2zM191.4 351.4h3.2v3.2h-3.2zM199.0 350.6l2.2 3.7h-4.4zM205.0 349.6l2.2 3.7h-4.4zM218.8 350.4h2.4v3.1h-2.4zM223.8 350.8h2.4v3.1h-2.4zM168.0 354.6l2.2 3.7h-4.4zM169.8 359.4h2.4v3.1h-2.4zM174.4 357.4h3.2v3.2h-3.2zM173.4 360.4h3.2v3.2h-3.2zM180.0 353.6l2.2 3.7h-4.4zM182.4 355.4h3.2v3.2h-3.2zM184.4 357.4h3.2v3.2h-3.2zM187.8 355.4h2.4v3.1h-2.4zM190.4 357.4h3.2v3.2h-3.2zM193.4 356.4h3.2v3.2h-3.2zM203.0 355.6l2.2 3.7h-4.4zM207.0 357.6l2.2 3.7h-4.4zM213.4 359.4h3.2v3.2h-3.2zM214.4 361.4h3.2v3.2h-3.2zM166.8 362.4h2.4v3.1h-2.4zM171.8 361.4h2.4v3.1h-2.4zM178.4 362.4h3.2v3.2h-3.2zM179.4 366.4h3.2v3.2h-3.2zM185.0 363.6l2.2 3.7h-4.4zM182.4 368.4h3.2v3.2h-3.2zM190.8 363.4h2.4v3.1h-2.4zM194.0 360.6l2.2 3.7h-4.4zM189.4 367.4h3.2v3.2h-3.2zM191.4 368.4h3.2v3.2h-3.2zM210.8 366.4h2.4v3.1h-2.4zM220.0 363.6l2.2 3.7h-4.4zM217.8 367.4h2.4v3.1h-2.4zM176.0 369.6l2.2 3.7h-4.4zM179.8 369.4h2.4v3.1h-2.4zM183.8 371.4h2.4v3.1h-2.4zM184.4 373.4h3.2v3.2h-3.2zM191.0 372.6l2.2 3.7h-4.4zM207.0 374.6l2.2 3.7h-4.4zM216.0 370.6l2.2 3.7h-4.4zM198.0 376.6l2.2 3.7h-4.4zM198.0 379.6l2.2 3.7h-4.4zM240.0 356.6l2.2 3.7h-4.4zM243.0 357.6l2.2 3.7h-4.4zM248.0 354.0l2.2 3.7h-4.4zM261.0 357.0l2.2 3.7h-4.4zM125.0 325.3l2.2 3.7h-4.4zM128.3 327.2h2.4v3.1h-2.4zM125.9 331.6h2.4v3.1h-2.4zM122.2 333.3h2.4v3.1h-2.4zM126.5 337.1h3.2v3.2h-3.2zM145.8 329.1h2.4v3.1h-2.4zM146.8 323.4h3.2v3.2h-3.2zM151.6 328.2h2.4v3.1h-2.4zM153.6 324.5h2.4v3.1h-2.4zM145.7 334.1h3.2v3.2h-3.2zM160.0 317.9h2.4v3.1h-2.4zM159.4 323.6h3.2v3.2h-3.2zM163.2 316.5h3.2v3.2h-3.2zM157.4 326.5h3.2v3.2h-3.2zM159.9 326.2l2.2 3.7h-4.4zM160.5 333.0h2.4v3.1h-2.4zM164.0 331.6h3.2v3.2h-3.2zM155.0 336.4h2.4v3.1h-2.4zM157.5 332.7h3.2v3.2h-3.2zM153.8 323.7h3.2v3.2h-3.2zM147.1 346.1h3.2v3.2h-3.2zM159.4 337.4h3.2v3.2h-3.2zM162.2 337.8h3.2v3.2h-3.2zM141.6 345.0h3.2v3.2h-3.2zM143.5 345.5h3.2v3.2h-3.2zM139.1 352.2h3.2v3.2h-3.2zM152.4 352.8h2.4v3.1h-2.4zM144.3 364.4h2.4v3.1h-2.4zM152.4 360.8h2.4v3.1h-2.4zM150.0 362.2h3.2v3.2h-3.2zM152.2 359.9h3.2v3.2h-3.2zM153.3 367.8h2.4v3.1h-2.4zM158.2 360.9h3.2v3.2h-3.2zM156.8 356.3h2.4v3.1h-2.4zM153.1 353.0h3.2v3.2h-3.2zM161.9 353.7h2.4v3.1h-2.4zM166.7 321.7h2.4v3.1h-2.4zM166.9 322.8h3.2v3.2h-3.2zM165.1 327.1h3.2v3.2h-3.2zM170.1 332.8h2.4v3.1h-2.4zM174.7 326.8h3.2v3.2h-3.2zM181.9 329.9l2.2 3.7h-4.4zM184.8 327.3l2.2 3.7h-4.4zM186.6 328.5h2.4v3.1h-2.4zM176.7 331.1l2.2 3.7h-4.4zM178.7 336.0h3.2v3.2h-3.2zM182.1 334.1h2.4v3.1h-2.4zM184.5 333.2h3.2v3.2h-3.2zM168.1 335.5h2.4v3.1h-2.4zM174.1 337.2h3.2v3.2h-3.2zM177.0 339.5h3.2v3.2h-3.2zM177.7 338.3h2.4v3.1h-2.4zM187.6 340.2l2.2 3.7h-4.4zM177.8 340.1h3.2v3.2h-3.2zM174.8 346.0h2.4v3.1h-2.4zM167.2 346.5h2.4v3.1h-2.4zM204.1 330.6l2.2 3.7h-4.4zM200.6 335.1h2.4v3.1h-2.4zM169.8 351.2h3.2v3.2h-3.2zM174.9 353.2h3.2v3.2h-3.2zM181.1 348.3l2.2 3.7h-4.4zM182.6 345.2l2.2 3.7h-4.4zM183.7 349.5h3.2v3.2h-3.2zM186.7 349.8h3.2v3.2h-3.2zM170.3 357.2h2.4v3.1h-2.4zM173.4 358.2h2.4v3.1h-2.4zM171.2 360.4h3.2v3.2h-3.2zM171.5 361.6h2.4v3.1h-2.4zM184.1 364.5h3.2v3.2h-3.2zM184.9 370.0h2.4v3.1h-2.4zM179.6 369.4h3.2v3.2h-3.2z"/>
<line x1="52.9" y1="321.9" x2="285.0" y2="355.8" stroke="#1c1c1c" stroke-width="1.15" stroke-dasharray="1.6 4.23"/>
<line x1="47.0" y1="338.9" x2="285.0" y2="343.5" stroke="#1c1c1c" stroke-width="1.15" stroke-dasharray="3.9 3.9"/>
<line x1="47.0" y1="363.9" x2="285.0" y2="339.0" stroke="#1c1c1c" stroke-width="1.15" stroke-dasharray="6.8 3.0"/>
<path d="M47.0,306.60V399.21" stroke="#3a3a3a" stroke-width="1.3" fill="none"/>
<path d="M41.0,306.60H47.0M41.0,319.83H47.0M41.0,333.06H47.0M41.0,346.29H47.0M41.0,359.52H47.0M41.0,372.75H47.0M41.0,385.98H47.0M41.0,399.21H47.0" stroke="#3a3a3a" stroke-width="1.3" fill="none"/>
<text x="35.4" y="310.55" font-size="10.3" text-anchor="end" fill="#000">0.8</text>
<text x="35.4" y="323.78" font-size="10.3" text-anchor="end" fill="#000">0.6</text>
<text x="35.4" y="337.01" font-size="10.3" text-anchor="end" fill="#000">0.4</text>
<text x="35.4" y="350.24" font-size="10.3" text-anchor="end" fill="#000">0.2</text>
<text x="35.4" y="363.47" font-size="10.3" text-anchor="end" fill="#000">0.0</text>
<text x="35.4" y="376.70" font-size="10.3" text-anchor="end" fill="#000">−0.2</text>
<text x="35.4" y="389.93" font-size="10.3" text-anchor="end" fill="#000">−0.4</text>
<text x="35.4" y="403.16" font-size="10.3" text-anchor="end" fill="#000">−0.6</text>
<path d="M56.0,403.2H277.4M56.0,403.2V409.2M92.9,403.2V409.2M129.8,403.2V409.2M166.7,403.2V409.2M203.6,403.2V409.2M240.5,403.2V409.2M277.4,403.2V409.2" stroke="#3a3a3a" stroke-width="1.3" fill="none"/>
<text x="56.0" y="423.9" font-size="10.3" text-anchor="middle" fill="#000">0</text>
<text x="92.9" y="423.9" font-size="10.3" text-anchor="middle" fill="#000">20</text>
<text x="129.8" y="423.9" font-size="10.3" text-anchor="middle" fill="#000">40</text>
<text x="166.7" y="423.9" font-size="10.3" text-anchor="middle" fill="#000">60</text>
<text x="203.6" y="423.9" font-size="10.3" text-anchor="middle" fill="#000">80</text>
<text x="240.5" y="423.9" font-size="10.3" text-anchor="middle" fill="#000">100</text>
<text x="277.4" y="423.9" font-size="10.3" text-anchor="middle" fill="#000">120</text>
<text x="166.7" y="435.4" font-size="10" text-anchor="middle" fill="#000">JJ precipitation (mm)</text>
<text transform="translate(9.5,352.9) rotate(-90)" font-size="10" text-anchor="middle" fill="#000">JJ temperature correlation</text>
<text x="47.6" y="301.3" font-size="10" font-weight="bold" fill="#000">C</text>
<path fill="#0000ff" d="M392.6 24.6l2.2 3.7h-4.4zM387.0 30.6l2.2 3.7h-4.4zM392.0 31.6l2.2 3.7h-4.4zM395.0 33.2l2.2 3.7h-4.4zM390.0 39.6l2.2 3.7h-4.4zM389.4 42.4h3.2v3.2h-3.2zM395.0 44.6l2.2 3.7h-4.4zM387.8 46.5h2.4v3.1h-2.4zM371.0 42.0l2.2 3.7h-4.4zM372.0 44.6l2.2 3.7h-4.4zM373.8 42.9h2.4v3.1h-2.4zM368.0 48.6l2.2 3.7h-4.4zM371.0 50.6l2.2 3.7h-4.4zM372.4 52.4h3.2v3.2h-3.2zM367.8 54.5h2.4v3.1h-2.4zM370.4 55.4h3.2v3.2h-3.2zM381.4 48.4h3.2v3.2h-3.2zM383.8 50.5h2.4v3.1h-2.4zM385.8 52.5h2.4v3.1h-2.4zM382.8 54.5h2.4v3.1h-2.4zM386.4 55.4h3.2v3.2h-3.2zM388.4 53.4h3.2v3.2h-3.2zM389.4 49.4h3.2v3.2h-3.2zM400.0 40.6l2.2 3.7h-4.4zM406.0 42.6l2.2 3.7h-4.4zM399.4 45.4h3.2v3.2h-3.2zM399.0 46.6l2.2 3.7h-4.4zM400.4 49.4h3.2v3.2h-3.2zM405.0 47.6l2.2 3.7h-4.4zM396.8 51.5h2.4v3.1h-2.4zM399.4 53.4h3.2v3.2h-3.2zM402.4 52.4h3.2v3.2h-3.2zM397.4 55.4h3.2v3.2h-3.2zM401.4 55.4h3.2v3.2h-3.2zM405.4 54.4h3.2v3.2h-3.2zM416.0 36.6l2.2 3.7h-4.4zM416.8 43.5h2.4v3.1h-2.4zM419.0 43.6l2.2 3.7h-4.4zM413.0 44.6l2.2 3.7h-4.4zM412.8 48.5h2.4v3.1h-2.4zM415.4 49.4h3.2v3.2h-3.2zM414.4 52.4h3.2v3.2h-3.2zM417.8 51.5h2.4v3.1h-2.4zM411.4 54.4h3.2v3.2h-3.2zM416.4 55.4h3.2v3.2h-3.2zM432.0 48.6l2.2 3.7h-4.4zM428.8 52.5h2.4v3.1h-2.4zM434.0 52.6l2.2 3.7h-4.4zM429.4 55.4h3.2v3.2h-3.2zM435.4 55.4h3.2v3.2h-3.2zM441.4 48.4h3.2v3.2h-3.2zM441.4 53.4h3.2v3.2h-3.2zM450.0 51.6l2.2 3.7h-4.4zM445.8 55.5h2.4v3.1h-2.4zM461.4 36.4h3.2v3.2h-3.2zM456.4 43.4h3.2v3.2h-3.2zM459.0 47.6l2.2 3.7h-4.4zM464.0 45.6l2.2 3.7h-4.4zM463.8 48.5h2.4v3.1h-2.4zM457.8 51.5h2.4v3.1h-2.4zM459.4 54.4h3.2v3.2h-3.2zM462.4 55.4h3.2v3.2h-3.2zM471.4 46.4h3.2v3.2h-3.2zM474.8 45.5h2.4v3.1h-2.4zM473.8 49.5h2.4v3.1h-2.4zM471.4 53.4h3.2v3.2h-3.2zM475.8 54.5h2.4v3.1h-2.4zM367.4 58.4h3.2v3.2h-3.2zM369.8 61.5h2.4v3.1h-2.4zM370.4 64.4h3.2v3.2h-3.2zM381.8 57.5h2.4v3.1h-2.4zM383.4 59.4h3.2v3.2h-3.2zM385.4 58.4h3.2v3.2h-3.2zM387.4 57.4h3.2v3.2h-3.2zM389.8 60.5h2.4v3.1h-2.4zM392.8 58.5h2.4v3.1h-2.4zM394.4 61.4h3.2v3.2h-3.2zM396.4 59.4h3.2v3.2h-3.2zM398.8 57.5h2.4v3.1h-2.4zM400.8 60.5h2.4v3.1h-2.4zM402.8 58.5h2.4v3.1h-2.4zM385.8 63.5h2.4v3.1h-2.4zM388.8 64.5h2.4v3.1h-2.4zM391.4 63.4h3.2v3.2h-3.2zM395.4 64.4h3.2v3.2h-3.2zM399.8 63.5h2.4v3.1h-2.4zM405.0 63.6l2.2 3.7h-4.4zM369.0 67.6l2.2 3.7h-4.4zM374.0 68.6l2.2 3.7h-4.4zM375.0 71.6l2.2 3.7h-4.4zM379.0 78.6l2.2 3.7h-4.4zM382.4 67.4h3.2v3.2h-3.2zM383.8 70.5h2.4v3.1h-2.4zM384.8 73.5h2.4v3.1h-2.4zM387.4 70.4h3.2v3.2h-3.2zM388.8 74.5h2.4v3.1h-2.4zM387.0 67.6l2.2 3.7h-4.4zM390.4 69.4h3.2v3.2h-3.2zM396.4 67.4h3.2v3.2h-3.2zM397.4 70.4h3.2v3.2h-3.2zM401.0 67.6l2.2 3.7h-4.4zM400.8 73.5h2.4v3.1h-2.4zM398.4 75.4h3.2v3.2h-3.2zM401.4 74.4h3.2v3.2h-3.2zM407.0 69.6l2.2 3.7h-4.4zM404.4 65.4h3.2v3.2h-3.2zM410.4 58.4h3.2v3.2h-3.2zM412.8 60.5h2.4v3.1h-2.4zM415.4 57.4h3.2v3.2h-3.2zM411.4 64.4h3.2v3.2h-3.2zM413.8 67.5h2.4v3.1h-2.4zM416.4 65.4h3.2v3.2h-3.2zM419.0 67.6l2.2 3.7h-4.4zM413.8 71.5h2.4v3.1h-2.4zM411.4 75.4h3.2v3.2h-3.2zM415.8 76.5h2.4v3.1h-2.4zM416.4 78.4h3.2v3.2h-3.2zM424.4 58.4h3.2v3.2h-3.2zM426.4 61.4h3.2v3.2h-3.2zM429.8 59.5h2.4v3.1h-2.4zM427.4 65.4h3.2v3.2h-3.2zM429.8 68.5h2.4v3.1h-2.4zM426.4 70.4h3.2v3.2h-3.2zM431.8 67.5h2.4v3.1h-2.4zM434.4 64.4h3.2v3.2h-3.2zM433.4 72.4h3.2v3.2h-3.2zM436.8 74.5h2.4v3.1h-2.4zM440.4 60.4h3.2v3.2h-3.2zM443.4 58.4h3.2v3.2h-3.2zM442.4 64.4h3.2v3.2h-3.2zM444.4 67.4h3.2v3.2h-3.2zM441.8 70.5h2.4v3.1h-2.4zM445.4 72.4h3.2v3.2h-3.2zM448.8 71.5h2.4v3.1h-2.4zM440.8 73.5h2.4v3.1h-2.4zM446.4 75.4h3.2v3.2h-3.2zM443.8 74.5h2.4v3.1h-2.4zM454.4 58.4h3.2v3.2h-3.2zM457.8 60.5h2.4v3.1h-2.4zM459.4 62.4h3.2v3.2h-3.2zM456.4 64.4h3.2v3.2h-3.2zM461.4 65.4h3.2v3.2h-3.2zM463.8 68.5h2.4v3.1h-2.4zM459.8 70.5h2.4v3.1h-2.4zM455.8 74.5h2.4v3.1h-2.4zM457.8 77.5h2.4v3.1h-2.4zM454.8 80.5h2.4v3.1h-2.4zM460.0 80.6l2.2 3.7h-4.4zM464.0 79.6l2.2 3.7h-4.4zM456.4 84.4h3.2v3.2h-3.2zM454.8 87.5h2.4v3.1h-2.4zM455.4 93.4h3.2v3.2h-3.2zM471.0 58.6l2.2 3.7h-4.4zM472.4 61.4h3.2v3.2h-3.2zM469.4 65.4h3.2v3.2h-3.2zM473.4 67.4h3.2v3.2h-3.2zM475.4 70.4h3.2v3.2h-3.2zM470.8 72.5h2.4v3.1h-2.4zM471.0 75.6l2.2 3.7h-4.4zM477.0 77.6l2.2 3.7h-4.4zM469.8 86.5h2.4v3.1h-2.4zM398.8 81.5h2.4v3.1h-2.4zM399.4 87.4h3.2v3.2h-3.2zM402.4 79.4h3.2v3.2h-3.2zM416.4 87.4h3.2v3.2h-3.2zM428.0 82.6l2.2 3.7h-4.4zM429.4 83.4h3.2v3.2h-3.2zM432.4 84.4h3.2v3.2h-3.2zM431.4 94.4h3.2v3.2h-3.2zM433.8 95.5h2.4v3.1h-2.4zM385.4 95.4h3.2v3.2h-3.2zM483.4 42.4h3.2v3.2h-3.2zM481.4 46.4h3.2v3.2h-3.2zM488.0 47.6l2.2 3.7h-4.4zM490.0 46.6l2.2 3.7h-4.4zM484.8 49.5h2.4v3.1h-2.4zM479.8 51.5h2.4v3.1h-2.4zM482.4 53.4h3.2v3.2h-3.2zM489.4 54.4h3.2v3.2h-3.2zM501.4 52.0h3.2v3.2h-3.2zM502.8 54.5h2.4v3.1h-2.4zM514.8 51.5h2.4v3.1h-2.4zM521.8 55.5h2.4v3.1h-2.4zM535.8 53.5h2.4v3.1h-2.4zM534.8 55.5h2.4v3.1h-2.4zM483.4 59.4h3.2v3.2h-3.2zM486.8 58.5h2.4v3.1h-2.4zM488.8 61.5h2.4v3.1h-2.4zM490.4 57.4h3.2v3.2h-3.2zM495.0 57.6l2.2 3.7h-4.4zM485.8 63.5h2.4v3.1h-2.4zM491.0 63.6l2.2 3.7h-4.4zM490.0 66.6l2.2 3.7h-4.4zM491.4 68.4h3.2v3.2h-3.2zM486.4 69.4h3.2v3.2h-3.2zM481.4 68.4h3.2v3.2h-3.2zM479.0 69.6l2.2 3.7h-4.4zM482.8 75.5h2.4v3.1h-2.4zM485.4 76.4h3.2v3.2h-3.2zM491.0 74.6l2.2 3.7h-4.4zM493.0 75.6l2.2 3.7h-4.4zM488.4 79.4h3.2v3.2h-3.2zM491.4 80.4h3.2v3.2h-3.2zM490.8 84.5h2.4v3.1h-2.4zM489.4 87.4h3.2v3.2h-3.2zM492.4 83.4h3.2v3.2h-3.2zM498.0 79.6l2.2 3.7h-4.4zM499.0 61.6l2.2 3.7h-4.4zM499.8 65.5h2.4v3.1h-2.4zM501.8 68.5h2.4v3.1h-2.4zM503.4 65.4h3.2v3.2h-3.2zM505.4 66.4h3.2v3.2h-3.2zM502.8 71.5h2.4v3.1h-2.4zM505.8 75.5h2.4v3.1h-2.4zM506.8 72.5h2.4v3.1h-2.4zM499.4 76.4h3.2v3.2h-3.2zM500.8 82.5h2.4v3.1h-2.4zM501.4 91.4h3.2v3.2h-3.2zM490.4 92.4h3.2v3.2h-3.2zM483.0 95.6l2.2 3.7h-4.4zM478.8 84.5h2.4v3.1h-2.4zM484.4 85.4h3.2v3.2h-3.2zM516.4 60.4h3.2v3.2h-3.2zM518.4 62.4h3.2v3.2h-3.2zM515.4 70.4h3.2v3.2h-3.2zM518.8 71.5h2.4v3.1h-2.4zM520.8 73.5h2.4v3.1h-2.4zM519.4 76.4h3.2v3.2h-3.2zM522.4 76.4h3.2v3.2h-3.2zM518.4 79.4h3.2v3.2h-3.2zM517.4 84.4h3.2v3.2h-3.2zM520.4 87.4h3.2v3.2h-3.2zM521.4 93.4h3.2v3.2h-3.2zM522.4 57.4h3.2v3.2h-3.2zM530.4 64.4h3.2v3.2h-3.2zM536.8 66.5h2.4v3.1h-2.4zM535.4 57.4h3.2v3.2h-3.2zM531.4 80.4h3.2v3.2h-3.2zM536.4 85.4h3.2v3.2h-3.2zM547.4 71.4h3.2v3.2h-3.2zM550.8 68.5h2.4v3.1h-2.4zM543.4 76.4h3.2v3.2h-3.2zM547.8 80.5h2.4v3.1h-2.4zM550.4 78.4h3.2v3.2h-3.2zM367.5 51.3h3.2v3.2h-3.2zM385.6 50.9h2.4v3.1h-2.4zM386.6 50.6h3.2v3.2h-3.2zM379.7 52.4h3.2v3.2h-3.2zM389.1 55.8h3.2v3.2h-3.2zM390.9 48.8l2.2 3.7h-4.4zM401.6 42.0h3.2v3.2h-3.2zM398.5 49.1l2.2 3.7h-4.4zM405.1 46.6l2.2 3.7h-4.4zM392.0 49.4h2.4v3.1h-2.4zM400.9 52.5l2.2 3.7h-4.4zM401.9 52.4h2.4v3.1h-2.4zM398.1 51.8h3.2v3.2h-3.2zM404.5 52.2h3.2v3.2h-3.2zM410.6 48.0h2.4v3.1h-2.4zM415.0 48.7h2.4v3.1h-2.4zM415.1 52.4h2.4v3.1h-2.4zM412.7 52.2h3.2v3.2h-3.2zM414.8 56.0h3.2v3.2h-3.2zM433.7 54.6l2.2 3.7h-4.4zM431.1 56.7h2.4v3.1h-2.4zM474.4 48.7h2.4v3.1h-2.4zM381.7 57.3h3.2v3.2h-3.2zM386.2 56.7l2.2 3.7h-4.4zM384.7 59.5h3.2v3.2h-3.2zM390.6 57.0h3.2v3.2h-3.2zM400.4 58.3h3.2v3.2h-3.2zM397.7 56.2h2.4v3.1h-2.4zM398.4 61.3h3.2v3.2h-3.2zM405.9 57.9h2.4v3.1h-2.4zM390.9 65.0h3.2v3.2h-3.2zM389.1 61.0h3.2v3.2h-3.2zM395.6 64.6h3.2v3.2h-3.2zM400.7 64.5h3.2v3.2h-3.2zM408.9 62.6l2.2 3.7h-4.4zM385.2 69.6h3.2v3.2h-3.2zM383.5 72.8h2.4v3.1h-2.4zM388.7 68.3h3.2v3.2h-3.2zM383.8 67.9h3.2v3.2h-3.2zM396.6 67.0h3.2v3.2h-3.2zM392.8 69.1h3.2v3.2h-3.2zM400.3 67.4h3.2v3.2h-3.2zM399.6 78.7h2.4v3.1h-2.4zM396.5 74.7h2.4v3.1h-2.4zM401.5 74.9l2.2 3.7h-4.4zM405.1 69.9h3.2v3.2h-3.2zM414.9 58.9h2.4v3.1h-2.4zM414.7 65.5h2.4v3.1h-2.4zM413.5 74.0h2.4v3.1h-2.4zM427.9 65.3h2.4v3.1h-2.4zM433.7 66.9h3.2v3.2h-3.2zM444.6 65.5l2.2 3.7h-4.4zM441.1 68.9h3.2v3.2h-3.2zM444.6 73.5h2.4v3.1h-2.4zM444.4 75.9h2.4v3.1h-2.4zM460.7 65.0h3.2v3.2h-3.2zM459.6 81.1h3.2v3.2h-3.2zM475.2 67.7h2.4v3.1h-2.4zM483.8 51.8h2.4v3.1h-2.4zM480.3 49.0l2.2 3.7h-4.4zM484.2 62.0h2.4v3.1h-2.4zM489.8 62.4h3.2v3.2h-3.2zM487.1 55.7h3.2v3.2h-3.2zM481.6 59.2h2.4v3.1h-2.4zM491.4 62.6l2.2 3.7h-4.4zM487.5 67.3h3.2v3.2h-3.2zM492.4 73.4l2.2 3.7h-4.4zM486.3 79.2h3.2v3.2h-3.2zM489.7 78.6h3.2v3.2h-3.2zM491.5 80.9l2.2 3.7h-4.4zM489.2 85.2h2.4v3.1h-2.4zM498.4 79.6l2.2 3.7h-4.4zM502.7 70.2l2.2 3.7h-4.4zM504.8 72.9l2.2 3.7h-4.4zM520.0 73.4h3.2v3.2h-3.2zM520.5 74.2h3.2v3.2h-3.2z"/>
<line x1="364.0" y1="64.3" x2="597.2" y2="69.6" stroke="#1c1c1c" stroke-width="1.15" stroke-dasharray="1.6 4.23"/>
<line x1="359.2" y1="59.1" x2="597.2" y2="81.5" stroke="#1c1c1c" stroke-width="1.15" stroke-dasharray="3.9 3.9"/>
<line x1="359.2" y1="52.7" x2="597.2" y2="86.8" stroke="#1c1c1c" stroke-width="1.15" stroke-dasharray="6.8 3.0"/>
<path d="M359.2,13.70V106.31" stroke="#3a3a3a" stroke-width="1.3" fill="none"/>
<path d="M353.2,13.70H359.2M353.2,26.93H359.2M353.2,40.16H359.2M353.2,53.39H359.2M353.2,66.62H359.2M353.2,79.85H359.2M353.2,93.08H359.2M353.2,106.31H359.2" stroke="#3a3a3a" stroke-width="1.3" fill="none"/>
<text x="347.6" y="17.65" font-size="10.3" text-anchor="end" fill="#000">0.8</text>
<text x="347.6" y="30.88" font-size="10.3" text-anchor="end" fill="#000">0.6</text>
<text x="347.6" y="44.11" font-size="10.3" text-anchor="end" fill="#000">0.4</text>
<text x="347.6" y="57.34" font-size="10.3" text-anchor="end" fill="#000">0.2</text>
<text x="347.6" y="70.57" font-size="10.3" text-anchor="end" fill="#000">0.0</text>
<text x="347.6" y="83.80" font-size="10.3" text-anchor="end" fill="#000">−0.2</text>
<text x="347.6" y="97.03" font-size="10.3" text-anchor="end" fill="#000">−0.4</text>
<text x="347.6" y="110.26" font-size="10.3" text-anchor="end" fill="#000">−0.6</text>
<path d="M368.2,110.3H589.6M368.2,110.3V116.3M442.0,110.3V116.3M515.8,110.3V116.3M589.6,110.3V116.3" stroke="#3a3a3a" stroke-width="1.3" fill="none"/>
<text x="368.2" y="131.0" font-size="10.3" text-anchor="middle" fill="#000">60</text>
<text x="442.0" y="131.0" font-size="10.3" text-anchor="middle" fill="#000">65</text>
<text x="515.8" y="131.0" font-size="10.3" text-anchor="middle" fill="#000">70</text>
<text x="589.6" y="131.0" font-size="10.3" text-anchor="middle" fill="#000">75</text>
<text x="478.9" y="142.5" font-size="10" text-anchor="middle" fill="#000">Latitude (°N)</text>
<text transform="translate(321.7,60.0) rotate(-90)" font-size="10" text-anchor="middle" fill="#000">JJ precipitation correlation</text>
<text x="359.8" y="8.4" font-size="10" font-weight="bold" fill="#000">D</text>
<path fill="#0000ff" d="M429.4 193.6l2.2 3.7h-4.4zM453.8 192.8h2.4v3.1h-2.4zM462.4 192.0h3.2v3.2h-3.2zM465.8 195.4h2.4v3.1h-2.4zM463.8 197.4h2.4v3.1h-2.4zM475.4 190.4h3.2v3.2h-3.2zM440.4 198.4h3.2v3.2h-3.2zM442.8 200.4h2.4v3.1h-2.4zM450.4 200.0h3.2v3.2h-3.2zM456.8 200.8h2.4v3.1h-2.4zM468.0 199.6l2.2 3.7h-4.4zM469.4 201.4h3.2v3.2h-3.2zM475.8 200.4h2.4v3.1h-2.4zM397.4 210.4h3.2v3.2h-3.2zM387.8 219.4h3.2v3.2h-3.2zM388.2 224.0h2.4v3.1h-2.4zM400.4 226.0h3.2v3.2h-3.2zM413.0 236.4h3.2v3.2h-3.2zM413.4 240.0h2.4v3.1h-2.4zM433.4 208.0h3.2v3.2h-3.2zM442.4 203.4h3.2v3.2h-3.2zM455.4 203.4h3.2v3.2h-3.2zM457.8 205.4h2.4v3.1h-2.4zM461.4 204.4h3.2v3.2h-3.2zM465.4 203.4h3.2v3.2h-3.2zM469.4 204.4h3.2v3.2h-3.2zM472.4 207.4h3.2v3.2h-3.2zM475.4 209.4h3.2v3.2h-3.2zM474.8 213.4h2.4v3.1h-2.4zM426.4 215.4h3.2v3.2h-3.2zM430.0 216.6l2.2 3.7h-4.4zM431.4 216.4h3.2v3.2h-3.2zM434.4 214.4h3.2v3.2h-3.2zM437.4 213.4h3.2v3.2h-3.2zM441.0 210.6l2.2 3.7h-4.4zM441.8 215.4h2.4v3.1h-2.4zM443.4 213.4h3.2v3.2h-3.2zM447.4 211.4h3.2v3.2h-3.2zM449.8 215.4h2.4v3.1h-2.4zM454.0 215.6l2.2 3.7h-4.4zM455.8 214.4h2.4v3.1h-2.4zM458.8 217.4h2.4v3.1h-2.4zM461.4 215.4h3.2v3.2h-3.2zM465.8 216.4h2.4v3.1h-2.4zM469.4 214.4h3.2v3.2h-3.2zM472.8 212.4h2.4v3.1h-2.4zM429.4 221.4h3.2v3.2h-3.2zM432.8 219.4h2.4v3.1h-2.4zM434.8 222.4h2.4v3.1h-2.4zM436.4 220.4h3.2v3.2h-3.2zM438.8 223.4h2.4v3.1h-2.4zM440.4 221.4h3.2v3.2h-3.2zM435.4 226.4h3.2v3.2h-3.2zM432.4 228.4h3.2v3.2h-3.2zM439.4 226.4h3.2v3.2h-3.2zM443.4 226.4h3.2v3.2h-3.2zM448.8 221.4h2.4v3.1h-2.4zM451.8 222.4h2.4v3.1h-2.4zM455.4 220.4h3.2v3.2h-3.2zM457.4 223.4h3.2v3.2h-3.2zM460.8 222.4h2.4v3.1h-2.4zM463.4 224.4h3.2v3.2h-3.2zM466.8 221.4h2.4v3.1h-2.4zM470.0 223.6l2.2 3.7h-4.4zM465.4 227.4h3.2v3.2h-3.2zM463.0 227.6l2.2 3.7h-4.4zM426.8 232.4h2.4v3.1h-2.4zM433.8 234.4h2.4v3.1h-2.4zM439.4 232.4h3.2v3.2h-3.2zM442.8 238.0h2.4v3.1h-2.4zM459.4 231.4h3.2v3.2h-3.2zM461.8 234.4h2.4v3.1h-2.4zM460.4 236.4h3.2v3.2h-3.2zM471.8 231.4h2.4v3.1h-2.4zM474.4 230.4h3.2v3.2h-3.2zM475.8 239.4h2.4v3.1h-2.4zM571.0 170.6l2.2 3.7h-4.4zM565.4 177.2l2.2 3.7h-4.4zM571.4 179.2l2.2 3.7h-4.4zM546.4 180.4h3.2v3.2h-3.2zM537.8 182.8h2.4v3.1h-2.4zM556.0 183.2l2.2 3.7h-4.4zM556.0 187.2l2.2 3.7h-4.4zM560.0 188.6l2.2 3.7h-4.4zM571.0 187.2l2.2 3.7h-4.4zM573.4 189.4h3.2v3.2h-3.2zM575.4 189.0h3.2v3.2h-3.2zM524.2 189.4h2.4v3.1h-2.4zM541.4 189.4h3.2v3.2h-3.2zM543.4 191.4h3.2v3.2h-3.2zM542.0 192.6l2.2 3.7h-4.4zM545.4 194.4h3.2v3.2h-3.2zM550.0 192.6l2.2 3.7h-4.4zM550.4 195.4h3.2v3.2h-3.2zM547.8 196.4h2.4v3.1h-2.4zM553.4 196.4h3.2v3.2h-3.2zM559.0 194.6l2.2 3.7h-4.4zM561.4 194.4h3.2v3.2h-3.2zM565.4 195.4h3.2v3.2h-3.2zM568.8 193.4h2.4v3.1h-2.4zM571.8 194.4h2.4v3.1h-2.4zM567.8 197.4h2.4v3.1h-2.4zM571.8 198.4h2.4v3.1h-2.4zM575.8 197.4h2.4v3.1h-2.4zM481.0 194.0l2.2 3.7h-4.4zM485.4 194.4h3.2v3.2h-3.2zM491.0 193.6l2.2 3.7h-4.4zM495.0 192.6l2.2 3.7h-4.4zM487.4 197.4h3.2v3.2h-3.2zM491.4 198.4h3.2v3.2h-3.2zM481.4 199.4h3.2v3.2h-3.2zM499.8 197.4h2.4v3.1h-2.4zM505.0 194.6l2.2 3.7h-4.4zM505.4 197.4h3.2v3.2h-3.2zM507.4 199.4h3.2v3.2h-3.2zM519.0 194.6l2.2 3.7h-4.4zM519.4 194.4h3.2v3.2h-3.2zM525.0 196.6l2.2 3.7h-4.4zM526.4 200.4h3.2v3.2h-3.2zM529.4 200.0h3.2v3.2h-3.2zM533.4 200.4h3.2v3.2h-3.2zM537.4 199.4h3.2v3.2h-3.2zM541.4 198.4h3.2v3.2h-3.2zM545.4 200.4h3.2v3.2h-3.2zM549.8 199.4h2.4v3.1h-2.4zM555.4 200.4h3.2v3.2h-3.2zM559.4 200.0h3.2v3.2h-3.2zM563.4 200.4h3.2v3.2h-3.2zM567.4 200.4h3.2v3.2h-3.2zM572.4 200.4h3.2v3.2h-3.2zM577.8 200.0h2.4v3.1h-2.4zM581.4 200.4h3.2v3.2h-3.2zM585.8 200.8h2.4v3.1h-2.4zM479.4 203.4h3.2v3.2h-3.2zM483.4 204.4h3.2v3.2h-3.2zM487.8 203.4h2.4v3.1h-2.4zM491.4 204.4h3.2v3.2h-3.2zM495.4 203.4h3.2v3.2h-3.2zM499.8 205.4h2.4v3.1h-2.4zM503.8 204.4h2.4v3.1h-2.4zM509.8 203.4h2.4v3.1h-2.4zM513.4 205.4h3.2v3.2h-3.2zM517.4 203.4h3.2v3.2h-3.2zM521.4 204.4h3.2v3.2h-3.2zM525.8 203.4h2.4v3.1h-2.4zM529.4 205.4h3.2v3.2h-3.2zM533.8 204.4h2.4v3.1h-2.4zM537.4 203.4h3.2v3.2h-3.2zM541.4 205.4h3.2v3.2h-3.2zM545.8 204.4h2.4v3.1h-2.4zM549.4 203.4h3.2v3.2h-3.2zM553.8 205.4h2.4v3.1h-2.4zM557.4 204.4h3.2v3.2h-3.2zM561.4 203.4h3.2v3.2h-3.2zM565.4 204.4h3.2v3.2h-3.2zM569.4 203.4h3.2v3.2h-3.2zM575.4 204.4h3.2v3.2h-3.2zM580.8 203.4h2.4v3.1h-2.4zM481.4 208.4h3.2v3.2h-3.2zM485.4 207.4h3.2v3.2h-3.2zM489.4 209.4h3.2v3.2h-3.2zM493.4 208.4h3.2v3.2h-3.2zM499.0 206.6l2.2 3.7h-4.4zM503.4 209.4h3.2v3.2h-3.2zM507.4 208.4h3.2v3.2h-3.2zM511.4 210.4h3.2v3.2h-3.2zM515.4 209.4h3.2v3.2h-3.2zM519.8 208.4h2.4v3.1h-2.4zM525.0 209.6l2.2 3.7h-4.4zM527.4 209.4h3.2v3.2h-3.2zM531.4 208.4h3.2v3.2h-3.2zM535.8 210.4h2.4v3.1h-2.4zM539.4 209.4h3.2v3.2h-3.2zM545.0 207.6l2.2 3.7h-4.4zM547.8 210.4h2.4v3.1h-2.4zM551.4 209.4h3.2v3.2h-3.2zM557.4 210.4h3.2v3.2h-3.2zM561.4 208.4h3.2v3.2h-3.2zM565.4 209.4h3.2v3.2h-3.2zM569.4 207.4h3.2v3.2h-3.2zM573.8 210.4h2.4v3.1h-2.4zM577.8 209.4h2.4v3.1h-2.4zM479.4 214.4h3.2v3.2h-3.2zM483.4 213.4h3.2v3.2h-3.2zM487.4 215.4h3.2v3.2h-3.2zM491.4 214.4h3.2v3.2h-3.2zM495.4 216.4h3.2v3.2h-3.2zM505.8 213.4h2.4v3.1h-2.4zM509.8 215.4h2.4v3.1h-2.4zM513.4 214.4h3.2v3.2h-3.2zM517.4 213.4h3.2v3.2h-3.2zM521.4 215.4h3.2v3.2h-3.2zM525.4 214.4h3.2v3.2h-3.2zM529.4 216.4h3.2v3.2h-3.2zM535.4 213.4h3.2v3.2h-3.2zM537.8 216.4h2.4v3.1h-2.4zM541.4 215.4h3.2v3.2h-3.2zM549.0 215.6l2.2 3.7h-4.4zM555.0 214.6l2.2 3.7h-4.4zM563.4 214.4h3.2v3.2h-3.2zM567.4 212.4h3.2v3.2h-3.2zM571.0 215.6l2.2 3.7h-4.4zM575.8 216.4h2.4v3.1h-2.4zM480.8 220.4h2.4v3.1h-2.4zM485.8 221.4h2.4v3.1h-2.4zM489.8 219.4h2.4v3.1h-2.4zM493.4 220.4h3.2v3.2h-3.2zM501.4 221.4h3.2v3.2h-3.2zM505.4 222.4h3.2v3.2h-3.2zM507.4 219.4h3.2v3.2h-3.2zM510.8 223.4h2.4v3.1h-2.4zM516.0 220.6l2.2 3.7h-4.4zM519.4 222.4h3.2v3.2h-3.2zM525.0 220.6l2.2 3.7h-4.4zM530.4 220.4h3.2v3.2h-3.2zM535.4 222.4h3.2v3.2h-3.2zM539.4 220.4h3.2v3.2h-3.2zM541.4 221.4h3.2v3.2h-3.2zM561.0 219.6l2.2 3.7h-4.4zM564.0 220.6l2.2 3.7h-4.4zM569.4 222.4h3.2v3.2h-3.2zM484.0 224.6l2.2 3.7h-4.4zM486.4 226.4h3.2v3.2h-3.2zM495.0 227.6l2.2 3.7h-4.4zM499.0 225.6l2.2 3.7h-4.4zM503.8 227.4h2.4v3.1h-2.4zM507.4 230.4h3.2v3.2h-3.2zM513.4 226.4h3.2v3.2h-3.2zM517.4 227.4h3.2v3.2h-3.2zM526.0 225.6l2.2 3.7h-4.4zM531.0 227.6l2.2 3.7h-4.4zM530.0 224.6l2.2 3.7h-4.4zM540.8 227.4h2.4v3.1h-2.4zM552.0 225.6l2.2 3.7h-4.4zM568.4 226.0h3.2v3.2h-3.2zM570.4 225.4h3.2v3.2h-3.2zM498.4 231.4h3.2v3.2h-3.2zM504.8 232.4h2.4v3.1h-2.4zM508.8 233.4h2.4v3.1h-2.4zM513.4 234.4h3.2v3.2h-3.2zM521.8 233.4h2.4v3.1h-2.4zM485.8 242.0h2.4v3.1h-2.4zM497.4 240.8h3.2v3.2h-3.2zM498.8 239.4h2.4v3.1h-2.4zM515.0 242.6l2.2 3.7h-4.4zM518.0 241.6l2.2 3.7h-4.4zM472.0 199.8l2.2 3.7h-4.4zM466.2 201.5l2.2 3.7h-4.4zM472.9 205.0h2.4v3.1h-2.4zM427.8 213.9l2.2 3.7h-4.4zM434.7 212.8h2.4v3.1h-2.4zM439.5 212.4h3.2v3.2h-3.2zM432.3 223.5h2.4v3.1h-2.4zM436.8 222.2h3.2v3.2h-3.2zM439.4 222.2l2.2 3.7h-4.4zM435.9 223.1h3.2v3.2h-3.2zM434.7 226.9h2.4v3.1h-2.4zM441.3 223.4h3.2v3.2h-3.2zM459.3 220.6h3.2v3.2h-3.2zM460.9 225.4h3.2v3.2h-3.2zM543.2 195.2h3.2v3.2h-3.2zM551.4 193.4l2.2 3.7h-4.4zM555.2 190.9l2.2 3.7h-4.4zM553.5 194.9h2.4v3.1h-2.4zM557.5 195.4l2.2 3.7h-4.4zM562.9 192.7h3.2v3.2h-3.2zM564.5 193.6h3.2v3.2h-3.2zM564.3 191.9h3.2v3.2h-3.2zM570.5 194.9h2.4v3.1h-2.4zM566.6 197.1h3.2v3.2h-3.2zM574.1 197.1h3.2v3.2h-3.2zM491.3 195.9l2.2 3.7h-4.4zM525.8 200.0h3.2v3.2h-3.2zM526.1 201.3h3.2v3.2h-3.2zM530.2 197.1h3.2v3.2h-3.2zM540.5 196.3h3.2v3.2h-3.2zM550.9 200.4h3.2v3.2h-3.2zM556.3 200.6h2.4v3.1h-2.4zM558.5 202.7h3.2v3.2h-3.2zM566.2 199.5l2.2 3.7h-4.4zM568.9 203.0h3.2v3.2h-3.2zM575.4 199.7l2.2 3.7h-4.4zM575.7 199.7h3.2v3.2h-3.2zM481.2 204.7h3.2v3.2h-3.2zM493.1 205.3l2.2 3.7h-4.4zM497.7 203.3h2.4v3.1h-2.4zM513.8 206.5h2.4v3.1h-2.4zM536.6 202.0l2.2 3.7h-4.4zM539.0 203.5h3.2v3.2h-3.2zM543.7 203.1h3.2v3.2h-3.2zM546.5 201.9h3.2v3.2h-3.2zM551.3 206.3h3.2v3.2h-3.2zM553.3 204.4l2.2 3.7h-4.4zM559.1 206.2h3.2v3.2h-3.2zM560.7 203.1l2.2 3.7h-4.4zM567.8 204.5h3.2v3.2h-3.2zM564.7 204.8h2.4v3.1h-2.4zM574.7 203.1h3.2v3.2h-3.2zM580.2 205.7h3.2v3.2h-3.2zM485.3 208.1l2.2 3.7h-4.4zM504.2 206.3h3.2v3.2h-3.2zM506.8 207.0h3.2v3.2h-3.2zM514.3 208.1h3.2v3.2h-3.2zM520.9 209.0h3.2v3.2h-3.2zM519.6 210.3h3.2v3.2h-3.2zM541.5 207.7h3.2v3.2h-3.2zM545.6 203.5l2.2 3.7h-4.4zM561.1 207.1h3.2v3.2h-3.2zM566.4 209.9h3.2v3.2h-3.2zM490.2 216.0h3.2v3.2h-3.2zM514.2 213.1h3.2v3.2h-3.2zM520.1 212.8l2.2 3.7h-4.4zM527.3 215.0h3.2v3.2h-3.2zM486.5 222.2h3.2v3.2h-3.2zM490.5 219.7h2.4v3.1h-2.4zM511.2 225.5h3.2v3.2h-3.2zM586.5 198.7h3.2v3.2h-3.2zM582.4 201.3h3.2v3.2h-3.2zM580.7 199.4h3.2v3.2h-3.2zM575.9 196.9l2.2 3.7h-4.4zM572.8 200.4h2.4v3.1h-2.4zM571.0 200.2h2.4v3.1h-2.4zM588.2 200.0l2.2 3.7h-4.4zM566.1 201.1h2.4v3.1h-2.4zM572.3 198.0h3.2v3.2h-3.2zM569.4 201.2l2.2 3.7h-4.4zM585.5 199.1l2.2 3.7h-4.4zM578.9 200.8h2.4v3.1h-2.4zM579.2 199.4h2.4v3.1h-2.4zM570.6 201.7h3.2v3.2h-3.2zM569.4 206.3h3.2v3.2h-3.2zM571.6 208.7h2.4v3.1h-2.4zM568.7 215.7l2.2 3.7h-4.4zM564.1 208.2l2.2 3.7h-4.4zM569.4 207.2h3.2v3.2h-3.2zM564.4 213.5h3.2v3.2h-3.2zM564.2 202.8l2.2 3.7h-4.4zM568.5 209.5l2.2 3.7h-4.4zM572.5 206.4l2.2 3.7h-4.4zM505.8 220.6l2.2 3.7h-4.4zM504.0 208.0h3.2v3.2h-3.2zM505.2 226.1h2.4v3.1h-2.4zM508.8 213.9h3.2v3.2h-3.2zM507.0 213.6h3.2v3.2h-3.2zM503.5 221.3h3.2v3.2h-3.2zM510.4 214.2l2.2 3.7h-4.4zM503.0 218.1h3.2v3.2h-3.2zM511.6 225.3h3.2v3.2h-3.2zM504.6 212.2h3.2v3.2h-3.2z"/>
<line x1="364.3" y1="210.0" x2="597.2" y2="214.0" stroke="#1c1c1c" stroke-width="1.15" stroke-dasharray="1.6 4.23"/>
<line x1="359.2" y1="233.0" x2="597.2" y2="200.5" stroke="#1c1c1c" stroke-width="1.15" stroke-dasharray="3.9 3.9"/>
<line x1="359.2" y1="234.0" x2="597.2" y2="199.8" stroke="#1c1c1c" stroke-width="1.15" stroke-dasharray="6.8 3.0"/>
<path d="M359.2,160.10V252.71" stroke="#3a3a3a" stroke-width="1.3" fill="none"/>
<path d="M353.2,160.10H359.2M353.2,173.33H359.2M353.2,186.56H359.2M353.2,199.79H359.2M353.2,213.02H359.2M353.2,226.25H359.2M353.2,239.48H359.2M353.2,252.71H359.2" stroke="#3a3a3a" stroke-width="1.3" fill="none"/>
<text x="347.6" y="164.05" font-size="10.3" text-anchor="end" fill="#000">0.8</text>
<text x="347.6" y="177.28" font-size="10.3" text-anchor="end" fill="#000">0.6</text>
<text x="347.6" y="190.51" font-size="10.3" text-anchor="end" fill="#000">0.4</text>
<text x="347.6" y="203.74" font-size="10.3" text-anchor="end" fill="#000">0.2</text>
<text x="347.6" y="216.97" font-size="10.3" text-anchor="end" fill="#000">0.0</text>
<text x="347.6" y="230.20" font-size="10.3" text-anchor="end" fill="#000">−0.2</text>
<text x="347.6" y="243.43" font-size="10.3" text-anchor="end" fill="#000">−0.4</text>
<text x="347.6" y="256.66" font-size="10.3" text-anchor="end" fill="#000">−0.6</text>
<path d="M367.8,256.7H575.7M367.8,256.7V262.7M437.1,256.7V262.7M506.4,256.7V262.7M575.7,256.7V262.7" stroke="#3a3a3a" stroke-width="1.3" fill="none"/>
<text x="367.8" y="277.4" font-size="10.3" text-anchor="middle" fill="#000">0</text>
<text x="437.1" y="277.4" font-size="10.3" text-anchor="middle" fill="#000">5</text>
<text x="506.4" y="277.4" font-size="10.3" text-anchor="middle" fill="#000">10</text>
<text x="575.7" y="277.4" font-size="10.3" text-anchor="middle" fill="#000">15</text>
<text x="478.9" y="288.9" font-size="10" text-anchor="middle" fill="#000">JJ temperature (°C)</text>
<text transform="translate(321.7,206.4) rotate(-90)" font-size="10" text-anchor="middle" fill="#000">JJ precipitation correlation</text>
<text x="359.8" y="154.8" font-size="10" font-weight="bold" fill="#000">E</text>
<path fill="#0000ff" d="M453.0 328.8h3.2v3.2h-3.2zM469.8 326.4h3.2v3.2h-3.2zM447.8 335.4h2.4v3.1h-2.4zM453.8 336.1h2.4v3.1h-2.4zM458.4 338.4h3.2v3.2h-3.2zM463.4 337.4h3.2v3.2h-3.2zM468.8 335.4h2.4v3.1h-2.4zM466.8 340.4h2.4v3.1h-2.4zM470.4 339.4h3.2v3.2h-3.2zM474.0 339.6l2.2 3.7h-4.4zM455.8 340.4h2.4v3.1h-2.4zM459.4 341.4h3.2v3.2h-3.2zM454.8 343.4h2.4v3.1h-2.4zM457.4 344.4h3.2v3.2h-3.2zM461.4 343.4h3.2v3.2h-3.2zM465.4 344.4h3.2v3.2h-3.2zM469.4 343.4h3.2v3.2h-3.2zM473.8 344.4h2.4v3.1h-2.4zM476.8 343.4h2.4v3.1h-2.4zM451.4 346.4h3.2v3.2h-3.2zM455.8 346.4h2.4v3.1h-2.4zM459.8 347.4h2.4v3.1h-2.4zM463.8 346.4h2.4v3.1h-2.4zM467.8 347.4h2.4v3.1h-2.4zM472.4 346.4h3.2v3.2h-3.2zM476.4 346.4h3.2v3.2h-3.2zM445.4 346.0h3.2v3.2h-3.2zM443.8 347.4h2.4v3.1h-2.4zM420.4 346.4h3.2v3.2h-3.2zM429.4 347.4h3.2v3.2h-3.2zM420.4 349.4h3.2v3.2h-3.2zM429.4 348.4h3.2v3.2h-3.2zM441.4 349.4h3.2v3.2h-3.2zM445.4 350.4h3.2v3.2h-3.2zM449.4 349.4h3.2v3.2h-3.2zM453.4 351.4h3.2v3.2h-3.2zM457.4 349.4h3.2v3.2h-3.2zM461.4 350.4h3.2v3.2h-3.2zM465.8 349.4h2.4v3.1h-2.4zM469.4 351.4h3.2v3.2h-3.2zM473.4 349.4h3.2v3.2h-3.2zM476.4 350.4h3.2v3.2h-3.2zM442.8 353.4h2.4v3.1h-2.4zM446.8 354.4h2.4v3.1h-2.4zM449.4 352.4h3.2v3.2h-3.2zM457.8 353.4h2.4v3.1h-2.4zM461.4 355.4h3.2v3.2h-3.2zM465.8 354.4h2.4v3.1h-2.4zM469.4 353.4h3.2v3.2h-3.2zM473.4 355.4h3.2v3.2h-3.2zM445.4 356.4h3.2v3.2h-3.2zM450.4 357.4h3.2v3.2h-3.2zM475.4 357.4h3.2v3.2h-3.2zM421.4 361.4h3.2v3.2h-3.2zM426.4 360.4h3.2v3.2h-3.2zM431.8 361.4h2.4v3.1h-2.4zM437.0 361.6l2.2 3.7h-4.4zM439.0 359.6l2.2 3.7h-4.4zM439.4 363.4h3.2v3.2h-3.2zM433.4 365.4h3.2v3.2h-3.2zM441.4 364.4h3.2v3.2h-3.2zM445.8 361.4h2.4v3.1h-2.4zM449.4 363.4h3.2v3.2h-3.2zM453.0 364.6l2.2 3.7h-4.4zM455.4 362.4h3.2v3.2h-3.2zM458.4 364.4h3.2v3.2h-3.2zM461.8 361.4h2.4v3.1h-2.4zM465.4 363.4h3.2v3.2h-3.2zM469.4 362.4h3.2v3.2h-3.2zM472.8 361.4h2.4v3.1h-2.4zM475.4 363.4h3.2v3.2h-3.2zM432.4 368.4h3.2v3.2h-3.2zM436.4 367.4h3.2v3.2h-3.2zM438.8 370.4h2.4v3.1h-2.4zM441.8 368.4h2.4v3.1h-2.4zM444.4 369.4h3.2v3.2h-3.2zM447.8 367.4h2.4v3.1h-2.4zM451.4 368.4h3.2v3.2h-3.2zM453.4 370.4h3.2v3.2h-3.2zM456.8 367.4h2.4v3.1h-2.4zM459.8 369.4h2.4v3.1h-2.4zM463.8 368.4h2.4v3.1h-2.4zM469.4 369.4h3.2v3.2h-3.2zM473.4 367.4h3.2v3.2h-3.2zM419.8 371.4h3.2v3.2h-3.2zM431.4 372.4h3.2v3.2h-3.2zM439.4 373.4h3.2v3.2h-3.2zM443.8 373.4h2.4v3.1h-2.4zM449.4 372.4h3.2v3.2h-3.2zM457.4 373.4h3.2v3.2h-3.2zM461.4 374.4h3.2v3.2h-3.2zM467.8 372.4h2.4v3.1h-2.4zM472.4 370.4h3.2v3.2h-3.2zM420.4 378.4h3.2v3.2h-3.2zM425.4 378.8h3.2v3.2h-3.2zM438.4 378.0h3.2v3.2h-3.2zM447.4 380.8h3.2v3.2h-3.2zM453.4 378.4h3.2v3.2h-3.2zM462.8 377.4h2.4v3.1h-2.4zM468.4 379.4h3.2v3.2h-3.2zM470.8 382.4h2.4v3.1h-2.4zM468.8 386.1h2.4v3.1h-2.4zM415.0 384.4h3.2v3.2h-3.2zM420.8 382.8h2.4v3.1h-2.4zM497.0 316.6l2.2 3.7h-4.4zM491.4 323.2l2.2 3.7h-4.4zM497.4 325.6l2.2 3.7h-4.4zM497.4 327.2l2.2 3.7h-4.4zM504.6 329.6l2.2 3.7h-4.4zM484.0 334.6l2.2 3.7h-4.4zM488.0 333.6l2.2 3.7h-4.4zM492.0 334.0l2.2 3.7h-4.4zM497.4 332.6l2.2 3.7h-4.4zM501.0 334.6l2.2 3.7h-4.4zM505.0 336.6l2.2 3.7h-4.4zM508.6 338.0l2.2 3.7h-4.4zM532.0 336.6l2.2 3.7h-4.4zM554.0 339.6l2.2 3.7h-4.4zM560.0 342.0l2.2 3.7h-4.4zM479.4 340.4h3.2v3.2h-3.2zM483.8 341.4h2.4v3.1h-2.4zM487.4 339.4h3.2v3.2h-3.2zM491.4 341.4h3.2v3.2h-3.2zM495.4 339.4h3.2v3.2h-3.2zM497.4 340.4h3.2v3.2h-3.2zM503.0 341.6l2.2 3.7h-4.4zM483.8 344.4h2.4v3.1h-2.4zM487.4 345.4h3.2v3.2h-3.2zM492.4 344.4h3.2v3.2h-3.2zM496.8 343.4h2.4v3.1h-2.4zM499.4 345.4h3.2v3.2h-3.2zM504.8 344.4h2.4v3.1h-2.4zM480.4 346.4h3.2v3.2h-3.2zM485.4 347.4h3.2v3.2h-3.2zM489.8 346.4h2.4v3.1h-2.4zM494.4 347.4h3.2v3.2h-3.2zM501.4 346.4h3.2v3.2h-3.2zM507.4 346.4h3.2v3.2h-3.2zM511.4 346.4h3.2v3.2h-3.2zM515.4 346.0h3.2v3.2h-3.2zM517.4 347.4h3.2v3.2h-3.2zM478.4 349.4h3.2v3.2h-3.2zM481.4 350.4h3.2v3.2h-3.2zM485.4 349.4h3.2v3.2h-3.2zM489.8 350.4h2.4v3.1h-2.4zM493.4 349.4h3.2v3.2h-3.2zM497.8 351.4h2.4v3.1h-2.4zM501.4 350.4h3.2v3.2h-3.2zM505.4 349.4h3.2v3.2h-3.2zM511.0 349.6l2.2 3.7h-4.4zM518.0 348.6l2.2 3.7h-4.4zM526.4 352.4h3.2v3.2h-3.2zM529.8 354.4h2.4v3.1h-2.4zM535.4 349.4h3.2v3.2h-3.2zM538.0 350.6l2.2 3.7h-4.4zM542.0 352.6l2.2 3.7h-4.4zM554.0 349.6l2.2 3.7h-4.4zM553.0 352.6l2.2 3.7h-4.4zM561.0 355.6l2.2 3.7h-4.4zM573.0 353.6l2.2 3.7h-4.4zM479.4 354.4h3.2v3.2h-3.2zM483.4 353.4h3.2v3.2h-3.2zM487.4 355.4h3.2v3.2h-3.2zM491.4 354.4h3.2v3.2h-3.2zM495.4 353.4h3.2v3.2h-3.2zM499.4 355.4h3.2v3.2h-3.2zM503.8 354.4h2.4v3.1h-2.4zM507.4 356.4h3.2v3.2h-3.2zM512.8 355.4h2.4v3.1h-2.4zM517.4 357.4h3.2v3.2h-3.2zM527.4 355.4h3.2v3.2h-3.2zM530.4 357.4h3.2v3.2h-3.2zM479.4 359.4h3.2v3.2h-3.2zM483.8 360.4h2.4v3.1h-2.4zM487.4 358.4h3.2v3.2h-3.2zM491.4 359.4h3.2v3.2h-3.2zM495.4 360.4h3.2v3.2h-3.2zM499.4 358.4h3.2v3.2h-3.2zM503.8 359.4h2.4v3.1h-2.4zM508.8 361.4h2.4v3.1h-2.4zM514.4 360.4h3.2v3.2h-3.2zM521.0 357.6l2.2 3.7h-4.4zM530.4 360.4h3.2v3.2h-3.2zM536.0 360.6l2.2 3.7h-4.4zM541.4 363.4h3.2v3.2h-3.2zM545.4 362.4h3.2v3.2h-3.2zM565.0 361.6l2.2 3.7h-4.4zM561.8 359.4h2.4v3.1h-2.4zM480.4 364.4h3.2v3.2h-3.2zM484.4 365.4h3.2v3.2h-3.2zM488.8 366.4h2.4v3.1h-2.4zM492.8 364.4h2.4v3.1h-2.4zM496.4 365.4h3.2v3.2h-3.2zM501.4 363.4h3.2v3.2h-3.2zM504.8 366.4h2.4v3.1h-2.4zM514.4 366.4h3.2v3.2h-3.2zM518.0 368.6l2.2 3.7h-4.4zM522.4 368.4h3.2v3.2h-3.2zM530.8 365.4h2.4v3.1h-2.4zM533.4 367.4h3.2v3.2h-3.2zM540.8 368.4h2.4v3.1h-2.4zM554.4 368.4h3.2v3.2h-3.2zM478.4 370.4h3.2v3.2h-3.2zM482.4 372.4h3.2v3.2h-3.2zM488.0 369.6l2.2 3.7h-4.4zM490.4 371.4h3.2v3.2h-3.2zM494.4 373.4h3.2v3.2h-3.2zM500.0 371.6l2.2 3.7h-4.4zM502.4 371.4h3.2v3.2h-3.2zM493.0 374.6l2.2 3.7h-4.4zM503.0 375.6l2.2 3.7h-4.4zM481.4 375.4h3.2v3.2h-3.2zM478.4 376.4h3.2v3.2h-3.2zM517.0 373.6l2.2 3.7h-4.4zM536.0 374.6l2.2 3.7h-4.4zM543.0 373.6l2.2 3.7h-4.4zM545.0 371.6l2.2 3.7h-4.4zM548.0 375.6l2.2 3.7h-4.4zM547.8 379.4h2.4v3.1h-2.4zM533.8 381.4h2.4v3.1h-2.4zM486.4 380.4h3.2v3.2h-3.2zM488.4 378.4h3.2v3.2h-3.2zM494.8 385.4h2.4v3.1h-2.4zM512.4 386.8h3.2v3.2h-3.2zM517.4 388.4h3.2v3.2h-3.2zM488.0 389.2l2.2 3.7h-4.4zM560.4 388.4h3.2v3.2h-3.2zM458.2 338.4h3.2v3.2h-3.2zM465.9 341.7h3.2v3.2h-3.2zM473.5 339.9l2.2 3.7h-4.4zM456.3 339.3h3.2v3.2h-3.2zM457.7 341.0h3.2v3.2h-3.2zM452.9 342.5h3.2v3.2h-3.2zM461.5 340.1l2.2 3.7h-4.4zM468.6 343.4h3.2v3.2h-3.2zM468.3 343.8h3.2v3.2h-3.2zM471.0 344.8l2.2 3.7h-4.4zM477.9 346.6h3.2v3.2h-3.2zM454.2 344.2h2.4v3.1h-2.4zM454.9 343.5h3.2v3.2h-3.2zM458.8 344.5h3.2v3.2h-3.2zM467.9 344.6h3.2v3.2h-3.2zM472.6 347.1h3.2v3.2h-3.2zM477.8 344.0h3.2v3.2h-3.2zM448.2 343.0h3.2v3.2h-3.2zM438.5 350.4h3.2v3.2h-3.2zM455.2 350.6h2.4v3.1h-2.4zM461.0 350.7h3.2v3.2h-3.2zM463.8 347.1h3.2v3.2h-3.2zM470.0 352.9h3.2v3.2h-3.2zM471.8 351.5h3.2v3.2h-3.2zM476.5 349.4l2.2 3.7h-4.4zM445.4 350.8h3.2v3.2h-3.2zM446.0 356.7h2.4v3.1h-2.4zM457.7 350.4h3.2v3.2h-3.2zM468.7 353.0h3.2v3.2h-3.2zM474.7 356.7h2.4v3.1h-2.4zM443.8 356.6h3.2v3.2h-3.2zM477.0 354.5h3.2v3.2h-3.2zM437.0 360.7l2.2 3.7h-4.4zM440.3 363.6h2.4v3.1h-2.4zM432.8 363.6h3.2v3.2h-3.2zM451.6 363.5l2.2 3.7h-4.4zM458.3 365.8h2.4v3.1h-2.4zM476.6 364.6h2.4v3.1h-2.4zM436.5 369.7h3.2v3.2h-3.2zM439.8 369.9h3.2v3.2h-3.2zM441.1 366.2h3.2v3.2h-3.2zM444.9 369.8h3.2v3.2h-3.2zM451.4 367.6h3.2v3.2h-3.2zM451.6 371.6h2.4v3.1h-2.4zM458.3 369.2h3.2v3.2h-3.2zM459.7 367.3h3.2v3.2h-3.2zM444.4 374.1h3.2v3.2h-3.2zM503.6 336.1l2.2 3.7h-4.4zM478.1 344.2h2.4v3.1h-2.4zM487.1 336.7h3.2v3.2h-3.2zM492.2 342.3h3.2v3.2h-3.2zM501.5 338.5h3.2v3.2h-3.2zM503.7 337.7l2.2 3.7h-4.4zM484.9 342.9h3.2v3.2h-3.2zM493.6 341.8h3.2v3.2h-3.2zM502.0 348.0h2.4v3.1h-2.4zM485.4 345.6l2.2 3.7h-4.4zM507.6 343.5l2.2 3.7h-4.4zM511.8 343.0h2.4v3.1h-2.4zM475.0 348.0h3.2v3.2h-3.2zM485.5 350.4l2.2 3.7h-4.4zM486.2 347.8h3.2v3.2h-3.2zM487.8 347.1h2.4v3.1h-2.4zM492.6 351.7h3.2v3.2h-3.2zM505.1 350.4h3.2v3.2h-3.2zM509.4 350.9l2.2 3.7h-4.4zM480.6 354.3h3.2v3.2h-3.2zM487.5 356.7h3.2v3.2h-3.2zM493.2 353.4h2.4v3.1h-2.4zM496.6 354.9h2.4v3.1h-2.4zM514.7 353.2h3.2v3.2h-3.2zM527.6 355.6h2.4v3.1h-2.4zM477.0 358.3h3.2v3.2h-3.2zM484.7 356.6l2.2 3.7h-4.4zM487.4 357.0h3.2v3.2h-3.2zM490.7 360.6h3.2v3.2h-3.2zM494.7 357.8h3.2v3.2h-3.2zM527.2 364.1h3.2v3.2h-3.2zM483.3 364.8l2.2 3.7h-4.4zM485.8 367.4h3.2v3.2h-3.2zM491.3 369.8h3.2v3.2h-3.2zM500.9 363.1h3.2v3.2h-3.2zM486.5 371.3l2.2 3.7h-4.4zM482.0 372.8h3.2v3.2h-3.2zM490.7 369.0l2.2 3.7h-4.4zM481.2 368.9h3.2v3.2h-3.2zM495.8 362.9h2.4v3.1h-2.4zM488.0 368.0l2.2 3.7h-4.4zM496.2 355.5l2.2 3.7h-4.4zM486.4 365.7h2.4v3.1h-2.4zM488.0 370.0h3.2v3.2h-3.2zM481.2 365.8h3.2v3.2h-3.2zM497.5 362.6h2.4v3.1h-2.4zM498.2 361.4h3.2v3.2h-3.2zM481.2 360.2h3.2v3.2h-3.2zM484.6 357.1h3.2v3.2h-3.2zM489.1 362.9h3.2v3.2h-3.2zM475.2 368.8h3.2v3.2h-3.2zM480.4 362.6l2.2 3.7h-4.4zM496.2 361.6h2.4v3.1h-2.4zM483.8 365.4l2.2 3.7h-4.4zM494.7 368.2h3.2v3.2h-3.2zM485.5 354.8l2.2 3.7h-4.4zM491.3 360.0h3.2v3.2h-3.2zM481.6 370.2h2.4v3.1h-2.4zM497.1 356.9h2.4v3.1h-2.4zM495.2 367.9h3.2v3.2h-3.2zM512.4 341.7h3.2v3.2h-3.2zM510.8 352.5l2.2 3.7h-4.4zM506.1 354.4l2.2 3.7h-4.4zM511.4 346.4h2.4v3.1h-2.4zM505.1 354.9l2.2 3.7h-4.4zM500.9 353.2h2.4v3.1h-2.4z"/>
<line x1="364.0" y1="342.6" x2="597.2" y2="372.3" stroke="#1c1c1c" stroke-width="1.15" stroke-dasharray="1.6 4.23"/>
<line x1="359.2" y1="360.8" x2="597.2" y2="360.3" stroke="#1c1c1c" stroke-width="1.15" stroke-dasharray="3.9 3.9"/>
<line x1="359.2" y1="345.3" x2="597.2" y2="363.5" stroke="#1c1c1c" stroke-width="1.15" stroke-dasharray="6.8 3.0"/>
<path d="M359.2,306.60V399.21" stroke="#3a3a3a" stroke-width="1.3" fill="none"/>
<path d="M353.2,306.60H359.2M353.2,319.83H359.2M353.2,333.06H359.2M353.2,346.29H359.2M353.2,359.52H359.2M353.2,372.75H359.2M353.2,385.98H359.2M353.2,399.21H359.2" stroke="#3a3a3a" stroke-width="1.3" fill="none"/>
<text x="347.6" y="310.55" font-size="10.3" text-anchor="end" fill="#000">0.8</text>
<text x="347.6" y="323.78" font-size="10.3" text-anchor="end" fill="#000">0.6</text>
<text x="347.6" y="337.01" font-size="10.3" text-anchor="end" fill="#000">0.4</text>
<text x="347.6" y="350.24" font-size="10.3" text-anchor="end" fill="#000">0.2</text>
<text x="347.6" y="363.47" font-size="10.3" text-anchor="end" fill="#000">0.0</text>
<text x="347.6" y="376.70" font-size="10.3" text-anchor="end" fill="#000">−0.2</text>
<text x="347.6" y="389.93" font-size="10.3" text-anchor="end" fill="#000">−0.4</text>
<text x="347.6" y="403.16" font-size="10.3" text-anchor="end" fill="#000">−0.6</text>
<path d="M368.2,403.2H589.6M368.2,403.2V409.2M405.1,403.2V409.2M442.0,403.2V409.2M478.9,403.2V409.2M515.8,403.2V409.2M552.7,403.2V409.2M589.6,403.2V409.2" stroke="#3a3a3a" stroke-width="1.3" fill="none"/>
<text x="368.2" y="423.9" font-size="10.3" text-anchor="middle" fill="#000">0</text>
<text x="405.1" y="423.9" font-size="10.3" text-anchor="middle" fill="#000">20</text>
<text x="442.0" y="423.9" font-size="10.3" text-anchor="middle" fill="#000">40</text>
<text x="478.9" y="423.9" font-size="10.3" text-anchor="middle" fill="#000">60</text>
<text x="515.8" y="423.9" font-size="10.3" text-anchor="middle" fill="#000">80</text>
<text x="552.7" y="423.9" font-size="10.3" text-anchor="middle" fill="#000">100</text>
<text x="589.6" y="423.9" font-size="10.3" text-anchor="middle" fill="#000">120</text>
<text x="478.9" y="435.4" font-size="10" text-anchor="middle" fill="#000">JJ precipitation (mm)</text>
<text transform="translate(321.7,352.9) rotate(-90)" font-size="10" text-anchor="middle" fill="#000">JJ precipitation correlation</text>
<text x="359.8" y="301.3" font-size="10" font-weight="bold" fill="#000">F</text>
<path fill="#ff0000" d="M225.7 77.4h3.2v3.2h-3.2z"/>
<text x="231.5" y="81.8" font-size="10" font-style="italic" fill="#000">Larix</text>
<line x1="258.3" y1="79.6" x2="277.8" y2="79.6" stroke="#1c1c1c" stroke-width="1.15" stroke-dasharray="3.9 3.9"/>
<path fill="#ff0000" d="M227.3 86.8l2.2 3.7h-4.4z"/>
<text x="231.5" y="92.0" font-size="10" font-style="italic" fill="#000">Pinus</text>
<line x1="258.3" y1="89.8" x2="277.8" y2="89.8" stroke="#1c1c1c" stroke-width="1.15" stroke-dasharray="6.8 3.0"/>
<path fill="#ff0000" d="M226.1 97.9h2.4v3.1h-2.4z"/>
<text x="231.5" y="102.2" font-size="10" font-style="italic" fill="#000">Picea</text>
<line x1="258.6" y1="100.4" x2="273.3" y2="100.4" stroke="#1c1c1c" stroke-width="1.3" stroke-dasharray="1.4 5.1"/>
<path fill="#0000ff" d="M538.0 16.8h3.2v3.2h-3.2z"/>
<text x="543.8" y="21.2" font-size="10" font-style="italic" fill="#000">Larix</text>
<line x1="570.6" y1="19.0" x2="590.1" y2="19.0" stroke="#1c1c1c" stroke-width="1.15" stroke-dasharray="3.9 3.9"/>
<path fill="#0000ff" d="M539.6 26.2l2.2 3.7h-4.4z"/>
<text x="543.8" y="31.4" font-size="10" font-style="italic" fill="#000">Pinus</text>
<line x1="570.6" y1="29.2" x2="590.1" y2="29.2" stroke="#1c1c1c" stroke-width="1.15" stroke-dasharray="6.8 3.0"/>
<path fill="#0000ff" d="M538.4 37.2h2.4v3.1h-2.4z"/>
<text x="543.8" y="41.6" font-size="10" font-style="italic" fill="#000">Picea</text>
<line x1="570.9" y1="39.8" x2="585.6" y2="39.8" stroke="#1c1c1c" stroke-width="1.3" stroke-dasharray="1.4 5.1"/>
</svg></body></html>
